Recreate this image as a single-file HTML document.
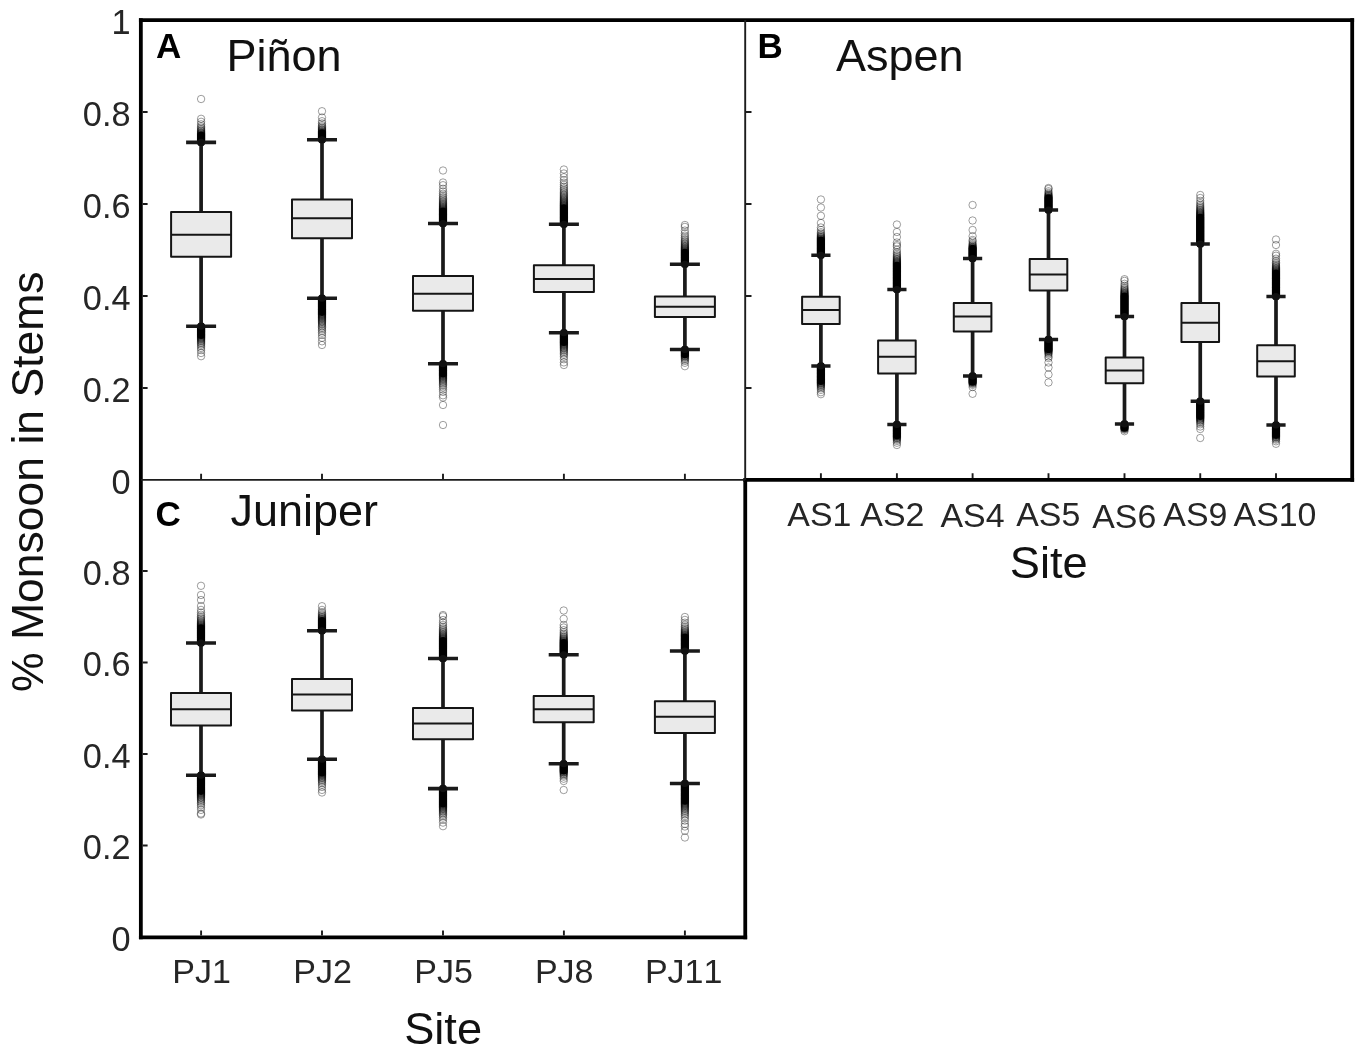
<!DOCTYPE html>
<html><head><meta charset="utf-8"><title>Monsoon in Stems</title>
<style>html,body{margin:0;padding:0;background:#fff}body{width:1360px;height:1052px;position:relative;overflow:hidden}</style>
</head><body>
<svg width="1360" height="1052" viewBox="0 0 1360 1052" style="position:absolute;left:0;top:0;font-kerning:none" font-family="Liberation Sans, Arial, sans-serif" fill="#262626">
<rect width="1360" height="1052" fill="#fff"/>
<g fill="none" stroke="#000" stroke-opacity="0.42" stroke-width="0.9"><circle cx="201.1" cy="142.4" r="3.7"/><circle cx="201.1" cy="142.0" r="3.7"/><circle cx="201.1" cy="141.5" r="3.7"/><circle cx="201.1" cy="141.1" r="3.7"/><circle cx="201.1" cy="140.6" r="3.7"/><circle cx="201.1" cy="140.2" r="3.7"/><circle cx="201.1" cy="139.7" r="3.7"/><circle cx="201.1" cy="139.2" r="3.7"/><circle cx="201.1" cy="138.8" r="3.7"/><circle cx="201.1" cy="138.3" r="3.7"/><circle cx="201.1" cy="137.9" r="3.7"/><circle cx="201.1" cy="137.5" r="3.7"/><circle cx="201.1" cy="137.0" r="3.7"/><circle cx="201.1" cy="136.6" r="3.7"/><circle cx="201.1" cy="136.1" r="3.7"/><circle cx="201.1" cy="135.7" r="3.7"/><circle cx="201.1" cy="135.2" r="3.7"/><circle cx="201.1" cy="134.8" r="3.7"/><circle cx="201.1" cy="134.3" r="3.7"/><circle cx="201.1" cy="133.8" r="3.7"/><circle cx="201.1" cy="133.3" r="3.7"/><circle cx="201.1" cy="132.8" r="3.7"/><circle cx="201.1" cy="132.1" r="3.7"/><circle cx="201.1" cy="131.5" r="3.7"/><circle cx="201.1" cy="130.7" r="3.7"/><circle cx="201.1" cy="129.8" r="3.7"/><circle cx="201.1" cy="128.8" r="3.7"/><circle cx="201.1" cy="127.6" r="3.7"/><circle cx="201.1" cy="126.2" r="3.7"/><circle cx="201.1" cy="124.3" r="3.7"/><circle cx="201.1" cy="121.8" r="3.7"/><circle cx="201.1" cy="118.8" r="3.7"/><circle cx="201.1" cy="99.0" r="3.7"/><path d="M201.1 142.4V135.4" stroke="#000" stroke-opacity="1" stroke-width="7.6" stroke-linecap="round"/><circle cx="201.1" cy="326.2" r="3.7"/><circle cx="201.1" cy="326.7" r="3.7"/><circle cx="201.1" cy="327.1" r="3.7"/><circle cx="201.1" cy="327.6" r="3.7"/><circle cx="201.1" cy="328.1" r="3.7"/><circle cx="201.1" cy="328.5" r="3.7"/><circle cx="201.1" cy="328.9" r="3.7"/><circle cx="201.1" cy="329.4" r="3.7"/><circle cx="201.1" cy="329.9" r="3.7"/><circle cx="201.1" cy="330.3" r="3.7"/><circle cx="201.1" cy="330.8" r="3.7"/><circle cx="201.1" cy="331.2" r="3.7"/><circle cx="201.1" cy="331.6" r="3.7"/><circle cx="201.1" cy="332.1" r="3.7"/><circle cx="201.1" cy="332.6" r="3.7"/><circle cx="201.1" cy="333.0" r="3.7"/><circle cx="201.1" cy="333.4" r="3.7"/><circle cx="201.1" cy="333.9" r="3.7"/><circle cx="201.1" cy="334.4" r="3.7"/><circle cx="201.1" cy="334.8" r="3.7"/><circle cx="201.1" cy="335.2" r="3.7"/><circle cx="201.1" cy="335.7" r="3.7"/><circle cx="201.1" cy="336.1" r="3.7"/><circle cx="201.1" cy="336.6" r="3.7"/><circle cx="201.1" cy="337.1" r="3.7"/><circle cx="201.1" cy="337.6" r="3.7"/><circle cx="201.1" cy="338.1" r="3.7"/><circle cx="201.1" cy="338.7" r="3.7"/><circle cx="201.1" cy="339.3" r="3.7"/><circle cx="201.1" cy="340.0" r="3.7"/><circle cx="201.1" cy="340.8" r="3.7"/><circle cx="201.1" cy="341.6" r="3.7"/><circle cx="201.1" cy="342.6" r="3.7"/><circle cx="201.1" cy="343.6" r="3.7"/><circle cx="201.1" cy="344.8" r="3.7"/><circle cx="201.1" cy="346.2" r="3.7"/><circle cx="201.1" cy="348.0" r="3.7"/><circle cx="201.1" cy="350.1" r="3.7"/><circle cx="201.1" cy="353.0" r="3.7"/><circle cx="201.1" cy="356.2" r="3.7"/><path d="M201.1 326.25V335.2" stroke="#000" stroke-opacity="1" stroke-width="7.6" stroke-linecap="round"/></g>
<path d="M201.1 142.4V212M201.1 256.75V326.25" stroke="#1a1a1a" stroke-width="3.7" fill="none"/>
<path d="M186.1 142.4H216.1M186.1 326.25H216.1" stroke="#1a1a1a" stroke-width="3.7" fill="none"/>
<circle cx="201.1" cy="142.4" r="3.6" fill="#111"/><circle cx="201.1" cy="326.25" r="3.6" fill="#111"/>
<rect x="171.1" y="212" width="60" height="44.75" fill="#eaeaea" stroke="#151515" stroke-width="2" stroke-linejoin="round"/>
<path d="M171.1 234.75H231.1" stroke="#151515" stroke-width="2"/>
<g fill="none" stroke="#000" stroke-opacity="0.42" stroke-width="0.9"><circle cx="322" cy="139.8" r="3.7"/><circle cx="322" cy="139.3" r="3.7"/><circle cx="322" cy="138.8" r="3.7"/><circle cx="322" cy="138.4" r="3.7"/><circle cx="322" cy="137.9" r="3.7"/><circle cx="322" cy="137.5" r="3.7"/><circle cx="322" cy="137.1" r="3.7"/><circle cx="322" cy="136.6" r="3.7"/><circle cx="322" cy="136.2" r="3.7"/><circle cx="322" cy="135.7" r="3.7"/><circle cx="322" cy="135.2" r="3.7"/><circle cx="322" cy="134.8" r="3.7"/><circle cx="322" cy="134.3" r="3.7"/><circle cx="322" cy="133.9" r="3.7"/><circle cx="322" cy="133.4" r="3.7"/><circle cx="322" cy="133.0" r="3.7"/><circle cx="322" cy="132.6" r="3.7"/><circle cx="322" cy="132.1" r="3.7"/><circle cx="322" cy="131.6" r="3.7"/><circle cx="322" cy="131.1" r="3.7"/><circle cx="322" cy="130.5" r="3.7"/><circle cx="322" cy="129.9" r="3.7"/><circle cx="322" cy="129.2" r="3.7"/><circle cx="322" cy="128.4" r="3.7"/><circle cx="322" cy="127.5" r="3.7"/><circle cx="322" cy="126.4" r="3.7"/><circle cx="322" cy="125.1" r="3.7"/><circle cx="322" cy="123.4" r="3.7"/><circle cx="322" cy="121.2" r="3.7"/><circle cx="322" cy="117.5" r="3.7"/><circle cx="322" cy="111.2" r="3.7"/><path d="M322 139.75V133.1" stroke="#000" stroke-opacity="1" stroke-width="7.6" stroke-linecap="round"/><circle cx="322" cy="298.2" r="3.7"/><circle cx="322" cy="298.7" r="3.7"/><circle cx="322" cy="299.1" r="3.7"/><circle cx="322" cy="299.6" r="3.7"/><circle cx="322" cy="300.1" r="3.7"/><circle cx="322" cy="300.5" r="3.7"/><circle cx="322" cy="300.9" r="3.7"/><circle cx="322" cy="301.4" r="3.7"/><circle cx="322" cy="301.9" r="3.7"/><circle cx="322" cy="302.3" r="3.7"/><circle cx="322" cy="302.8" r="3.7"/><circle cx="322" cy="303.2" r="3.7"/><circle cx="322" cy="303.6" r="3.7"/><circle cx="322" cy="304.1" r="3.7"/><circle cx="322" cy="304.6" r="3.7"/><circle cx="322" cy="305.0" r="3.7"/><circle cx="322" cy="305.4" r="3.7"/><circle cx="322" cy="305.9" r="3.7"/><circle cx="322" cy="306.4" r="3.7"/><circle cx="322" cy="306.8" r="3.7"/><circle cx="322" cy="307.2" r="3.7"/><circle cx="322" cy="307.7" r="3.7"/><circle cx="322" cy="308.1" r="3.7"/><circle cx="322" cy="308.6" r="3.7"/><circle cx="322" cy="309.1" r="3.7"/><circle cx="322" cy="309.5" r="3.7"/><circle cx="322" cy="309.9" r="3.7"/><circle cx="322" cy="310.4" r="3.7"/><circle cx="322" cy="310.9" r="3.7"/><circle cx="322" cy="311.3" r="3.7"/><circle cx="322" cy="311.8" r="3.7"/><circle cx="322" cy="312.2" r="3.7"/><circle cx="322" cy="312.6" r="3.7"/><circle cx="322" cy="313.1" r="3.7"/><circle cx="322" cy="313.6" r="3.7"/><circle cx="322" cy="314.0" r="3.7"/><circle cx="322" cy="314.5" r="3.7"/><circle cx="322" cy="314.9" r="3.7"/><circle cx="322" cy="315.4" r="3.7"/><circle cx="322" cy="316.0" r="3.7"/><circle cx="322" cy="316.5" r="3.7"/><circle cx="322" cy="317.1" r="3.7"/><circle cx="322" cy="317.7" r="3.7"/><circle cx="322" cy="318.3" r="3.7"/><circle cx="322" cy="319.0" r="3.7"/><circle cx="322" cy="319.7" r="3.7"/><circle cx="322" cy="320.5" r="3.7"/><circle cx="322" cy="321.3" r="3.7"/><circle cx="322" cy="322.1" r="3.7"/><circle cx="322" cy="323.0" r="3.7"/><circle cx="322" cy="324.0" r="3.7"/><circle cx="322" cy="325.1" r="3.7"/><circle cx="322" cy="326.3" r="3.7"/><circle cx="322" cy="327.6" r="3.7"/><circle cx="322" cy="329.1" r="3.7"/><circle cx="322" cy="330.8" r="3.7"/><circle cx="322" cy="332.7" r="3.7"/><circle cx="322" cy="335.0" r="3.7"/><circle cx="322" cy="337.8" r="3.7"/><circle cx="322" cy="341.3" r="3.7"/><circle cx="322" cy="345.0" r="3.7"/><path d="M322 298.25V312.1" stroke="#000" stroke-opacity="1" stroke-width="7.6" stroke-linecap="round"/></g>
<path d="M322 139.75V199.5M322 238.25V298.25" stroke="#1a1a1a" stroke-width="3.7" fill="none"/>
<path d="M307 139.75H337M307 298.25H337" stroke="#1a1a1a" stroke-width="3.7" fill="none"/>
<circle cx="322" cy="139.75" r="3.6" fill="#111"/><circle cx="322" cy="298.25" r="3.6" fill="#111"/>
<rect x="292" y="199.5" width="60" height="38.75" fill="#eaeaea" stroke="#151515" stroke-width="2" stroke-linejoin="round"/>
<path d="M292 218.25H352" stroke="#151515" stroke-width="2"/>
<g fill="none" stroke="#000" stroke-opacity="0.42" stroke-width="0.9"><circle cx="443" cy="223.5" r="3.7"/><circle cx="443" cy="223.1" r="3.7"/><circle cx="443" cy="222.6" r="3.7"/><circle cx="443" cy="222.2" r="3.7"/><circle cx="443" cy="221.7" r="3.7"/><circle cx="443" cy="221.2" r="3.7"/><circle cx="443" cy="220.8" r="3.7"/><circle cx="443" cy="220.3" r="3.7"/><circle cx="443" cy="219.9" r="3.7"/><circle cx="443" cy="219.4" r="3.7"/><circle cx="443" cy="219.0" r="3.7"/><circle cx="443" cy="218.6" r="3.7"/><circle cx="443" cy="218.1" r="3.7"/><circle cx="443" cy="217.7" r="3.7"/><circle cx="443" cy="217.2" r="3.7"/><circle cx="443" cy="216.8" r="3.7"/><circle cx="443" cy="216.3" r="3.7"/><circle cx="443" cy="215.8" r="3.7"/><circle cx="443" cy="215.4" r="3.7"/><circle cx="443" cy="214.9" r="3.7"/><circle cx="443" cy="214.5" r="3.7"/><circle cx="443" cy="214.1" r="3.7"/><circle cx="443" cy="213.6" r="3.7"/><circle cx="443" cy="213.2" r="3.7"/><circle cx="443" cy="212.7" r="3.7"/><circle cx="443" cy="212.2" r="3.7"/><circle cx="443" cy="211.8" r="3.7"/><circle cx="443" cy="211.3" r="3.7"/><circle cx="443" cy="210.9" r="3.7"/><circle cx="443" cy="210.5" r="3.7"/><circle cx="443" cy="210.0" r="3.7"/><circle cx="443" cy="209.6" r="3.7"/><circle cx="443" cy="209.1" r="3.7"/><circle cx="443" cy="208.6" r="3.7"/><circle cx="443" cy="208.1" r="3.7"/><circle cx="443" cy="207.5" r="3.7"/><circle cx="443" cy="207.0" r="3.7"/><circle cx="443" cy="206.4" r="3.7"/><circle cx="443" cy="205.7" r="3.7"/><circle cx="443" cy="205.0" r="3.7"/><circle cx="443" cy="204.3" r="3.7"/><circle cx="443" cy="203.5" r="3.7"/><circle cx="443" cy="202.7" r="3.7"/><circle cx="443" cy="201.8" r="3.7"/><circle cx="443" cy="200.8" r="3.7"/><circle cx="443" cy="199.7" r="3.7"/><circle cx="443" cy="198.5" r="3.7"/><circle cx="443" cy="197.1" r="3.7"/><circle cx="443" cy="195.5" r="3.7"/><circle cx="443" cy="193.7" r="3.7"/><circle cx="443" cy="191.5" r="3.7"/><circle cx="443" cy="188.8" r="3.7"/><circle cx="443" cy="185.2" r="3.7"/><circle cx="443" cy="182.5" r="3.7"/><circle cx="443" cy="170.5" r="3.7"/><path d="M443 223.5V211.3" stroke="#000" stroke-opacity="1" stroke-width="7.6" stroke-linecap="round"/><circle cx="443" cy="363.8" r="3.7"/><circle cx="443" cy="364.2" r="3.7"/><circle cx="443" cy="364.6" r="3.7"/><circle cx="443" cy="365.1" r="3.7"/><circle cx="443" cy="365.6" r="3.7"/><circle cx="443" cy="366.0" r="3.7"/><circle cx="443" cy="366.4" r="3.7"/><circle cx="443" cy="366.9" r="3.7"/><circle cx="443" cy="367.4" r="3.7"/><circle cx="443" cy="367.8" r="3.7"/><circle cx="443" cy="368.2" r="3.7"/><circle cx="443" cy="368.7" r="3.7"/><circle cx="443" cy="369.1" r="3.7"/><circle cx="443" cy="369.6" r="3.7"/><circle cx="443" cy="370.1" r="3.7"/><circle cx="443" cy="370.5" r="3.7"/><circle cx="443" cy="370.9" r="3.7"/><circle cx="443" cy="371.4" r="3.7"/><circle cx="443" cy="371.9" r="3.7"/><circle cx="443" cy="372.3" r="3.7"/><circle cx="443" cy="372.8" r="3.7"/><circle cx="443" cy="373.2" r="3.7"/><circle cx="443" cy="373.6" r="3.7"/><circle cx="443" cy="374.1" r="3.7"/><circle cx="443" cy="374.6" r="3.7"/><circle cx="443" cy="375.0" r="3.7"/><circle cx="443" cy="375.5" r="3.7"/><circle cx="443" cy="375.9" r="3.7"/><circle cx="443" cy="376.4" r="3.7"/><circle cx="443" cy="377.0" r="3.7"/><circle cx="443" cy="377.6" r="3.7"/><circle cx="443" cy="378.2" r="3.7"/><circle cx="443" cy="378.8" r="3.7"/><circle cx="443" cy="379.6" r="3.7"/><circle cx="443" cy="380.3" r="3.7"/><circle cx="443" cy="381.2" r="3.7"/><circle cx="443" cy="382.2" r="3.7"/><circle cx="443" cy="383.2" r="3.7"/><circle cx="443" cy="384.4" r="3.7"/><circle cx="443" cy="385.8" r="3.7"/><circle cx="443" cy="387.4" r="3.7"/><circle cx="443" cy="389.4" r="3.7"/><circle cx="443" cy="391.9" r="3.7"/><circle cx="443" cy="395.3" r="3.7"/><circle cx="443" cy="397.5" r="3.7"/><circle cx="443" cy="425.0" r="3.7"/><circle cx="443" cy="405.0" r="3.7"/><path d="M443 363.75V373.8" stroke="#000" stroke-opacity="1" stroke-width="7.6" stroke-linecap="round"/></g>
<path d="M443 223.5V276M443 310.75V363.75" stroke="#1a1a1a" stroke-width="3.7" fill="none"/>
<path d="M428 223.5H458M428 363.75H458" stroke="#1a1a1a" stroke-width="3.7" fill="none"/>
<circle cx="443" cy="223.5" r="3.6" fill="#111"/><circle cx="443" cy="363.75" r="3.6" fill="#111"/>
<rect x="413" y="276" width="60" height="34.75" fill="#eaeaea" stroke="#151515" stroke-width="2" stroke-linejoin="round"/>
<path d="M413 293.75H473" stroke="#151515" stroke-width="2"/>
<g fill="none" stroke="#000" stroke-opacity="0.42" stroke-width="0.9"><circle cx="563.9" cy="224.2" r="3.7"/><circle cx="563.9" cy="223.8" r="3.7"/><circle cx="563.9" cy="223.3" r="3.7"/><circle cx="563.9" cy="222.9" r="3.7"/><circle cx="563.9" cy="222.4" r="3.7"/><circle cx="563.9" cy="222.0" r="3.7"/><circle cx="563.9" cy="221.6" r="3.7"/><circle cx="563.9" cy="221.1" r="3.7"/><circle cx="563.9" cy="220.7" r="3.7"/><circle cx="563.9" cy="220.2" r="3.7"/><circle cx="563.9" cy="219.8" r="3.7"/><circle cx="563.9" cy="219.3" r="3.7"/><circle cx="563.9" cy="218.8" r="3.7"/><circle cx="563.9" cy="218.4" r="3.7"/><circle cx="563.9" cy="217.9" r="3.7"/><circle cx="563.9" cy="217.5" r="3.7"/><circle cx="563.9" cy="217.1" r="3.7"/><circle cx="563.9" cy="216.6" r="3.7"/><circle cx="563.9" cy="216.2" r="3.7"/><circle cx="563.9" cy="215.7" r="3.7"/><circle cx="563.9" cy="215.2" r="3.7"/><circle cx="563.9" cy="214.8" r="3.7"/><circle cx="563.9" cy="214.3" r="3.7"/><circle cx="563.9" cy="213.9" r="3.7"/><circle cx="563.9" cy="213.4" r="3.7"/><circle cx="563.9" cy="213.0" r="3.7"/><circle cx="563.9" cy="212.6" r="3.7"/><circle cx="563.9" cy="212.1" r="3.7"/><circle cx="563.9" cy="211.7" r="3.7"/><circle cx="563.9" cy="211.2" r="3.7"/><circle cx="563.9" cy="210.8" r="3.7"/><circle cx="563.9" cy="210.3" r="3.7"/><circle cx="563.9" cy="209.9" r="3.7"/><circle cx="563.9" cy="209.4" r="3.7"/><circle cx="563.9" cy="209.0" r="3.7"/><circle cx="563.9" cy="208.5" r="3.7"/><circle cx="563.9" cy="208.1" r="3.7"/><circle cx="563.9" cy="207.6" r="3.7"/><circle cx="563.9" cy="207.2" r="3.7"/><circle cx="563.9" cy="206.7" r="3.7"/><circle cx="563.9" cy="206.2" r="3.7"/><circle cx="563.9" cy="205.8" r="3.7"/><circle cx="563.9" cy="205.3" r="3.7"/><circle cx="563.9" cy="204.9" r="3.7"/><circle cx="563.9" cy="204.4" r="3.7"/><circle cx="563.9" cy="203.8" r="3.7"/><circle cx="563.9" cy="203.3" r="3.7"/><circle cx="563.9" cy="202.8" r="3.7"/><circle cx="563.9" cy="202.2" r="3.7"/><circle cx="563.9" cy="201.6" r="3.7"/><circle cx="563.9" cy="201.0" r="3.7"/><circle cx="563.9" cy="200.3" r="3.7"/><circle cx="563.9" cy="199.6" r="3.7"/><circle cx="563.9" cy="198.9" r="3.7"/><circle cx="563.9" cy="198.1" r="3.7"/><circle cx="563.9" cy="197.3" r="3.7"/><circle cx="563.9" cy="196.4" r="3.7"/><circle cx="563.9" cy="195.5" r="3.7"/><circle cx="563.9" cy="194.6" r="3.7"/><circle cx="563.9" cy="193.5" r="3.7"/><circle cx="563.9" cy="192.4" r="3.7"/><circle cx="563.9" cy="191.1" r="3.7"/><circle cx="563.9" cy="189.8" r="3.7"/><circle cx="563.9" cy="188.3" r="3.7"/><circle cx="563.9" cy="186.7" r="3.7"/><circle cx="563.9" cy="184.8" r="3.7"/><circle cx="563.9" cy="182.7" r="3.7"/><circle cx="563.9" cy="180.2" r="3.7"/><circle cx="563.9" cy="177.2" r="3.7"/><circle cx="563.9" cy="173.5" r="3.7"/><circle cx="563.9" cy="169.5" r="3.7"/><path d="M563.9 224.25V208.0" stroke="#000" stroke-opacity="1" stroke-width="7.6" stroke-linecap="round"/><circle cx="563.9" cy="332.8" r="3.7"/><circle cx="563.9" cy="333.2" r="3.7"/><circle cx="563.9" cy="333.6" r="3.7"/><circle cx="563.9" cy="334.1" r="3.7"/><circle cx="563.9" cy="334.6" r="3.7"/><circle cx="563.9" cy="335.0" r="3.7"/><circle cx="563.9" cy="335.4" r="3.7"/><circle cx="563.9" cy="335.9" r="3.7"/><circle cx="563.9" cy="336.4" r="3.7"/><circle cx="563.9" cy="336.8" r="3.7"/><circle cx="563.9" cy="337.2" r="3.7"/><circle cx="563.9" cy="337.7" r="3.7"/><circle cx="563.9" cy="338.1" r="3.7"/><circle cx="563.9" cy="338.6" r="3.7"/><circle cx="563.9" cy="339.1" r="3.7"/><circle cx="563.9" cy="339.5" r="3.7"/><circle cx="563.9" cy="339.9" r="3.7"/><circle cx="563.9" cy="340.4" r="3.7"/><circle cx="563.9" cy="340.9" r="3.7"/><circle cx="563.9" cy="341.3" r="3.7"/><circle cx="563.9" cy="341.8" r="3.7"/><circle cx="563.9" cy="342.2" r="3.7"/><circle cx="563.9" cy="342.6" r="3.7"/><circle cx="563.9" cy="343.1" r="3.7"/><circle cx="563.9" cy="343.6" r="3.7"/><circle cx="563.9" cy="344.0" r="3.7"/><circle cx="563.9" cy="344.5" r="3.7"/><circle cx="563.9" cy="345.0" r="3.7"/><circle cx="563.9" cy="345.6" r="3.7"/><circle cx="563.9" cy="346.1" r="3.7"/><circle cx="563.9" cy="346.8" r="3.7"/><circle cx="563.9" cy="347.5" r="3.7"/><circle cx="563.9" cy="348.2" r="3.7"/><circle cx="563.9" cy="349.0" r="3.7"/><circle cx="563.9" cy="349.9" r="3.7"/><circle cx="563.9" cy="350.9" r="3.7"/><circle cx="563.9" cy="352.1" r="3.7"/><circle cx="563.9" cy="353.4" r="3.7"/><circle cx="563.9" cy="354.9" r="3.7"/><circle cx="563.9" cy="356.8" r="3.7"/><circle cx="563.9" cy="359.2" r="3.7"/><circle cx="563.9" cy="362.4" r="3.7"/><circle cx="563.9" cy="365.0" r="3.7"/><path d="M563.9 332.75V342.3" stroke="#000" stroke-opacity="1" stroke-width="7.6" stroke-linecap="round"/></g>
<path d="M563.9 224.25V265.25M563.9 292V332.75" stroke="#1a1a1a" stroke-width="3.7" fill="none"/>
<path d="M548.9 224.25H578.9M548.9 332.75H578.9" stroke="#1a1a1a" stroke-width="3.7" fill="none"/>
<circle cx="563.9" cy="224.25" r="3.6" fill="#111"/><circle cx="563.9" cy="332.75" r="3.6" fill="#111"/>
<rect x="533.9" y="265.25" width="60" height="26.75" fill="#eaeaea" stroke="#151515" stroke-width="2" stroke-linejoin="round"/>
<path d="M533.9 279H593.9" stroke="#151515" stroke-width="2"/>
<g fill="none" stroke="#000" stroke-opacity="0.42" stroke-width="0.9"><circle cx="684.9" cy="264.2" r="3.7"/><circle cx="684.9" cy="263.8" r="3.7"/><circle cx="684.9" cy="263.4" r="3.7"/><circle cx="684.9" cy="262.9" r="3.7"/><circle cx="684.9" cy="262.4" r="3.7"/><circle cx="684.9" cy="262.0" r="3.7"/><circle cx="684.9" cy="261.6" r="3.7"/><circle cx="684.9" cy="261.1" r="3.7"/><circle cx="684.9" cy="260.6" r="3.7"/><circle cx="684.9" cy="260.2" r="3.7"/><circle cx="684.9" cy="259.8" r="3.7"/><circle cx="684.9" cy="259.3" r="3.7"/><circle cx="684.9" cy="258.9" r="3.7"/><circle cx="684.9" cy="258.4" r="3.7"/><circle cx="684.9" cy="257.9" r="3.7"/><circle cx="684.9" cy="257.5" r="3.7"/><circle cx="684.9" cy="257.1" r="3.7"/><circle cx="684.9" cy="256.6" r="3.7"/><circle cx="684.9" cy="256.1" r="3.7"/><circle cx="684.9" cy="255.7" r="3.7"/><circle cx="684.9" cy="255.2" r="3.7"/><circle cx="684.9" cy="254.8" r="3.7"/><circle cx="684.9" cy="254.3" r="3.7"/><circle cx="684.9" cy="253.9" r="3.7"/><circle cx="684.9" cy="253.4" r="3.7"/><circle cx="684.9" cy="253.0" r="3.7"/><circle cx="684.9" cy="252.6" r="3.7"/><circle cx="684.9" cy="252.1" r="3.7"/><circle cx="684.9" cy="251.7" r="3.7"/><circle cx="684.9" cy="251.2" r="3.7"/><circle cx="684.9" cy="250.7" r="3.7"/><circle cx="684.9" cy="250.3" r="3.7"/><circle cx="684.9" cy="249.8" r="3.7"/><circle cx="684.9" cy="249.2" r="3.7"/><circle cx="684.9" cy="248.7" r="3.7"/><circle cx="684.9" cy="248.1" r="3.7"/><circle cx="684.9" cy="247.5" r="3.7"/><circle cx="684.9" cy="246.8" r="3.7"/><circle cx="684.9" cy="246.1" r="3.7"/><circle cx="684.9" cy="245.3" r="3.7"/><circle cx="684.9" cy="244.5" r="3.7"/><circle cx="684.9" cy="243.6" r="3.7"/><circle cx="684.9" cy="242.6" r="3.7"/><circle cx="684.9" cy="241.6" r="3.7"/><circle cx="684.9" cy="240.4" r="3.7"/><circle cx="684.9" cy="239.0" r="3.7"/><circle cx="684.9" cy="237.4" r="3.7"/><circle cx="684.9" cy="235.6" r="3.7"/><circle cx="684.9" cy="233.4" r="3.7"/><circle cx="684.9" cy="230.6" r="3.7"/><circle cx="684.9" cy="226.9" r="3.7"/><circle cx="684.9" cy="225.0" r="3.7"/><path d="M684.9 264.25V252.6" stroke="#000" stroke-opacity="1" stroke-width="7.6" stroke-linecap="round"/><circle cx="684.9" cy="349.5" r="3.7"/><circle cx="684.9" cy="349.9" r="3.7"/><circle cx="684.9" cy="350.4" r="3.7"/><circle cx="684.9" cy="350.9" r="3.7"/><circle cx="684.9" cy="351.3" r="3.7"/><circle cx="684.9" cy="351.8" r="3.7"/><circle cx="684.9" cy="352.2" r="3.7"/><circle cx="684.9" cy="352.6" r="3.7"/><circle cx="684.9" cy="353.1" r="3.7"/><circle cx="684.9" cy="353.6" r="3.7"/><circle cx="684.9" cy="354.0" r="3.7"/><circle cx="684.9" cy="354.4" r="3.7"/><circle cx="684.9" cy="354.9" r="3.7"/><circle cx="684.9" cy="355.4" r="3.7"/><circle cx="684.9" cy="355.8" r="3.7"/><circle cx="684.9" cy="356.4" r="3.7"/><circle cx="684.9" cy="357.0" r="3.7"/><circle cx="684.9" cy="357.7" r="3.7"/><circle cx="684.9" cy="358.6" r="3.7"/><circle cx="684.9" cy="359.6" r="3.7"/><circle cx="684.9" cy="361.0" r="3.7"/><circle cx="684.9" cy="362.8" r="3.7"/><circle cx="684.9" cy="366.2" r="3.7"/><path d="M684.9 349.5V354.5" stroke="#000" stroke-opacity="1" stroke-width="7.6" stroke-linecap="round"/></g>
<path d="M684.9 264.25V296.5M684.9 317V349.5" stroke="#1a1a1a" stroke-width="3.7" fill="none"/>
<path d="M669.9 264.25H699.9M669.9 349.5H699.9" stroke="#1a1a1a" stroke-width="3.7" fill="none"/>
<circle cx="684.9" cy="264.25" r="3.6" fill="#111"/><circle cx="684.9" cy="349.5" r="3.6" fill="#111"/>
<rect x="654.9" y="296.5" width="60" height="20.5" fill="#eaeaea" stroke="#151515" stroke-width="2" stroke-linejoin="round"/>
<path d="M654.9 306.75H714.9" stroke="#151515" stroke-width="2"/>
<g fill="none" stroke="#000" stroke-opacity="0.42" stroke-width="0.9"><circle cx="820.9" cy="255.2" r="3.7"/><circle cx="820.9" cy="254.8" r="3.7"/><circle cx="820.9" cy="254.3" r="3.7"/><circle cx="820.9" cy="253.9" r="3.7"/><circle cx="820.9" cy="253.4" r="3.7"/><circle cx="820.9" cy="253.0" r="3.7"/><circle cx="820.9" cy="252.6" r="3.7"/><circle cx="820.9" cy="252.1" r="3.7"/><circle cx="820.9" cy="251.7" r="3.7"/><circle cx="820.9" cy="251.2" r="3.7"/><circle cx="820.9" cy="250.8" r="3.7"/><circle cx="820.9" cy="250.3" r="3.7"/><circle cx="820.9" cy="249.8" r="3.7"/><circle cx="820.9" cy="249.4" r="3.7"/><circle cx="820.9" cy="248.9" r="3.7"/><circle cx="820.9" cy="248.5" r="3.7"/><circle cx="820.9" cy="248.1" r="3.7"/><circle cx="820.9" cy="247.6" r="3.7"/><circle cx="820.9" cy="247.2" r="3.7"/><circle cx="820.9" cy="246.7" r="3.7"/><circle cx="820.9" cy="246.2" r="3.7"/><circle cx="820.9" cy="245.8" r="3.7"/><circle cx="820.9" cy="245.3" r="3.7"/><circle cx="820.9" cy="244.9" r="3.7"/><circle cx="820.9" cy="244.4" r="3.7"/><circle cx="820.9" cy="244.0" r="3.7"/><circle cx="820.9" cy="243.6" r="3.7"/><circle cx="820.9" cy="243.1" r="3.7"/><circle cx="820.9" cy="242.7" r="3.7"/><circle cx="820.9" cy="242.2" r="3.7"/><circle cx="820.9" cy="241.8" r="3.7"/><circle cx="820.9" cy="241.3" r="3.7"/><circle cx="820.9" cy="240.9" r="3.7"/><circle cx="820.9" cy="240.4" r="3.7"/><circle cx="820.9" cy="240.0" r="3.7"/><circle cx="820.9" cy="239.5" r="3.7"/><circle cx="820.9" cy="239.1" r="3.7"/><circle cx="820.9" cy="238.6" r="3.7"/><circle cx="820.9" cy="238.2" r="3.7"/><circle cx="820.9" cy="237.6" r="3.7"/><circle cx="820.9" cy="237.1" r="3.7"/><circle cx="820.9" cy="236.4" r="3.7"/><circle cx="820.9" cy="235.7" r="3.7"/><circle cx="820.9" cy="234.8" r="3.7"/><circle cx="820.9" cy="233.6" r="3.7"/><circle cx="820.9" cy="232.2" r="3.7"/><circle cx="820.9" cy="230.0" r="3.7"/><circle cx="820.9" cy="227.5" r="3.7"/><circle cx="820.9" cy="199.5" r="3.7"/><circle cx="820.9" cy="207.5" r="3.7"/><circle cx="820.9" cy="215.8" r="3.7"/><circle cx="820.9" cy="223.0" r="3.7"/><path d="M820.9 255.25V240.3" stroke="#000" stroke-opacity="1" stroke-width="7.6" stroke-linecap="round"/><circle cx="820.9" cy="366.0" r="3.7"/><circle cx="820.9" cy="366.4" r="3.7"/><circle cx="820.9" cy="366.9" r="3.7"/><circle cx="820.9" cy="367.4" r="3.7"/><circle cx="820.9" cy="367.8" r="3.7"/><circle cx="820.9" cy="368.2" r="3.7"/><circle cx="820.9" cy="368.7" r="3.7"/><circle cx="820.9" cy="369.1" r="3.7"/><circle cx="820.9" cy="369.6" r="3.7"/><circle cx="820.9" cy="370.1" r="3.7"/><circle cx="820.9" cy="370.5" r="3.7"/><circle cx="820.9" cy="370.9" r="3.7"/><circle cx="820.9" cy="371.4" r="3.7"/><circle cx="820.9" cy="371.9" r="3.7"/><circle cx="820.9" cy="372.3" r="3.7"/><circle cx="820.9" cy="372.8" r="3.7"/><circle cx="820.9" cy="373.2" r="3.7"/><circle cx="820.9" cy="373.6" r="3.7"/><circle cx="820.9" cy="374.1" r="3.7"/><circle cx="820.9" cy="374.6" r="3.7"/><circle cx="820.9" cy="375.0" r="3.7"/><circle cx="820.9" cy="375.4" r="3.7"/><circle cx="820.9" cy="375.9" r="3.7"/><circle cx="820.9" cy="376.4" r="3.7"/><circle cx="820.9" cy="376.8" r="3.7"/><circle cx="820.9" cy="377.2" r="3.7"/><circle cx="820.9" cy="377.7" r="3.7"/><circle cx="820.9" cy="378.1" r="3.7"/><circle cx="820.9" cy="378.6" r="3.7"/><circle cx="820.9" cy="379.1" r="3.7"/><circle cx="820.9" cy="379.5" r="3.7"/><circle cx="820.9" cy="379.9" r="3.7"/><circle cx="820.9" cy="380.4" r="3.7"/><circle cx="820.9" cy="380.8" r="3.7"/><circle cx="820.9" cy="381.3" r="3.7"/><circle cx="820.9" cy="381.8" r="3.7"/><circle cx="820.9" cy="382.2" r="3.7"/><circle cx="820.9" cy="382.6" r="3.7"/><circle cx="820.9" cy="383.1" r="3.7"/><circle cx="820.9" cy="383.6" r="3.7"/><circle cx="820.9" cy="384.1" r="3.7"/><circle cx="820.9" cy="384.7" r="3.7"/><circle cx="820.9" cy="385.4" r="3.7"/><circle cx="820.9" cy="386.1" r="3.7"/><circle cx="820.9" cy="387.1" r="3.7"/><circle cx="820.9" cy="388.3" r="3.7"/><circle cx="820.9" cy="389.9" r="3.7"/><circle cx="820.9" cy="392.2" r="3.7"/><circle cx="820.9" cy="394.2" r="3.7"/><path d="M820.9 366V381.3" stroke="#000" stroke-opacity="1" stroke-width="7.6" stroke-linecap="round"/></g>
<path d="M820.9 255.25V296.75M820.9 324V366" stroke="#1a1a1a" stroke-width="3.7" fill="none"/>
<path d="M811.3 255.25H830.5M811.3 366H830.5" stroke="#1a1a1a" stroke-width="3.7" fill="none"/>
<circle cx="820.9" cy="255.25" r="3.6" fill="#111"/><circle cx="820.9" cy="366" r="3.6" fill="#111"/>
<rect x="802.1" y="296.75" width="37.6" height="27.25" fill="#eaeaea" stroke="#151515" stroke-width="2" stroke-linejoin="round"/>
<path d="M802.1 310H839.6999999999999" stroke="#151515" stroke-width="2"/>
<g fill="none" stroke="#000" stroke-opacity="0.42" stroke-width="0.9"><circle cx="896.9" cy="289.5" r="3.7"/><circle cx="896.9" cy="289.1" r="3.7"/><circle cx="896.9" cy="288.6" r="3.7"/><circle cx="896.9" cy="288.1" r="3.7"/><circle cx="896.9" cy="287.7" r="3.7"/><circle cx="896.9" cy="287.2" r="3.7"/><circle cx="896.9" cy="286.8" r="3.7"/><circle cx="896.9" cy="286.4" r="3.7"/><circle cx="896.9" cy="285.9" r="3.7"/><circle cx="896.9" cy="285.4" r="3.7"/><circle cx="896.9" cy="285.0" r="3.7"/><circle cx="896.9" cy="284.6" r="3.7"/><circle cx="896.9" cy="284.1" r="3.7"/><circle cx="896.9" cy="283.6" r="3.7"/><circle cx="896.9" cy="283.2" r="3.7"/><circle cx="896.9" cy="282.8" r="3.7"/><circle cx="896.9" cy="282.3" r="3.7"/><circle cx="896.9" cy="281.9" r="3.7"/><circle cx="896.9" cy="281.4" r="3.7"/><circle cx="896.9" cy="280.9" r="3.7"/><circle cx="896.9" cy="280.5" r="3.7"/><circle cx="896.9" cy="280.1" r="3.7"/><circle cx="896.9" cy="279.6" r="3.7"/><circle cx="896.9" cy="279.1" r="3.7"/><circle cx="896.9" cy="278.7" r="3.7"/><circle cx="896.9" cy="278.2" r="3.7"/><circle cx="896.9" cy="277.8" r="3.7"/><circle cx="896.9" cy="277.4" r="3.7"/><circle cx="896.9" cy="276.9" r="3.7"/><circle cx="896.9" cy="276.4" r="3.7"/><circle cx="896.9" cy="276.0" r="3.7"/><circle cx="896.9" cy="275.6" r="3.7"/><circle cx="896.9" cy="275.1" r="3.7"/><circle cx="896.9" cy="274.7" r="3.7"/><circle cx="896.9" cy="274.2" r="3.7"/><circle cx="896.9" cy="273.8" r="3.7"/><circle cx="896.9" cy="273.3" r="3.7"/><circle cx="896.9" cy="272.9" r="3.7"/><circle cx="896.9" cy="272.4" r="3.7"/><circle cx="896.9" cy="271.9" r="3.7"/><circle cx="896.9" cy="271.5" r="3.7"/><circle cx="896.9" cy="271.1" r="3.7"/><circle cx="896.9" cy="270.6" r="3.7"/><circle cx="896.9" cy="270.2" r="3.7"/><circle cx="896.9" cy="269.7" r="3.7"/><circle cx="896.9" cy="269.2" r="3.7"/><circle cx="896.9" cy="268.8" r="3.7"/><circle cx="896.9" cy="268.4" r="3.7"/><circle cx="896.9" cy="267.9" r="3.7"/><circle cx="896.9" cy="267.5" r="3.7"/><circle cx="896.9" cy="267.0" r="3.7"/><circle cx="896.9" cy="266.6" r="3.7"/><circle cx="896.9" cy="266.1" r="3.7"/><circle cx="896.9" cy="265.7" r="3.7"/><circle cx="896.9" cy="265.2" r="3.7"/><circle cx="896.9" cy="264.8" r="3.7"/><circle cx="896.9" cy="264.3" r="3.7"/><circle cx="896.9" cy="263.9" r="3.7"/><circle cx="896.9" cy="263.4" r="3.7"/><circle cx="896.9" cy="263.0" r="3.7"/><circle cx="896.9" cy="262.5" r="3.7"/><circle cx="896.9" cy="262.0" r="3.7"/><circle cx="896.9" cy="261.5" r="3.7"/><circle cx="896.9" cy="261.0" r="3.7"/><circle cx="896.9" cy="260.4" r="3.7"/><circle cx="896.9" cy="259.7" r="3.7"/><circle cx="896.9" cy="259.0" r="3.7"/><circle cx="896.9" cy="258.2" r="3.7"/><circle cx="896.9" cy="257.3" r="3.7"/><circle cx="896.9" cy="256.3" r="3.7"/><circle cx="896.9" cy="255.1" r="3.7"/><circle cx="896.9" cy="253.7" r="3.7"/><circle cx="896.9" cy="252.0" r="3.7"/><circle cx="896.9" cy="249.7" r="3.7"/><circle cx="896.9" cy="246.4" r="3.7"/><circle cx="896.9" cy="245.0" r="3.7"/><circle cx="896.9" cy="224.5" r="3.7"/><circle cx="896.9" cy="232.0" r="3.7"/><circle cx="896.9" cy="237.0" r="3.7"/><circle cx="896.9" cy="242.5" r="3.7"/><path d="M896.9 289.5V265.5" stroke="#000" stroke-opacity="1" stroke-width="7.6" stroke-linecap="round"/><circle cx="896.9" cy="424.5" r="3.7"/><circle cx="896.9" cy="424.9" r="3.7"/><circle cx="896.9" cy="425.4" r="3.7"/><circle cx="896.9" cy="425.9" r="3.7"/><circle cx="896.9" cy="426.3" r="3.7"/><circle cx="896.9" cy="426.8" r="3.7"/><circle cx="896.9" cy="427.2" r="3.7"/><circle cx="896.9" cy="427.6" r="3.7"/><circle cx="896.9" cy="428.1" r="3.7"/><circle cx="896.9" cy="428.6" r="3.7"/><circle cx="896.9" cy="429.0" r="3.7"/><circle cx="896.9" cy="429.4" r="3.7"/><circle cx="896.9" cy="429.9" r="3.7"/><circle cx="896.9" cy="430.4" r="3.7"/><circle cx="896.9" cy="430.8" r="3.7"/><circle cx="896.9" cy="431.2" r="3.7"/><circle cx="896.9" cy="431.7" r="3.7"/><circle cx="896.9" cy="432.1" r="3.7"/><circle cx="896.9" cy="432.6" r="3.7"/><circle cx="896.9" cy="433.1" r="3.7"/><circle cx="896.9" cy="433.5" r="3.7"/><circle cx="896.9" cy="433.9" r="3.7"/><circle cx="896.9" cy="434.4" r="3.7"/><circle cx="896.9" cy="434.9" r="3.7"/><circle cx="896.9" cy="435.3" r="3.7"/><circle cx="896.9" cy="435.8" r="3.7"/><circle cx="896.9" cy="436.2" r="3.7"/><circle cx="896.9" cy="436.6" r="3.7"/><circle cx="896.9" cy="437.1" r="3.7"/><circle cx="896.9" cy="437.6" r="3.7"/><circle cx="896.9" cy="438.2" r="3.7"/><circle cx="896.9" cy="438.9" r="3.7"/><circle cx="896.9" cy="439.8" r="3.7"/><circle cx="896.9" cy="441.0" r="3.7"/><circle cx="896.9" cy="442.7" r="3.7"/><circle cx="896.9" cy="445.0" r="3.7"/><path d="M896.9 424.5V435.6" stroke="#000" stroke-opacity="1" stroke-width="7.6" stroke-linecap="round"/></g>
<path d="M896.9 289.5V340.5M896.9 373.5V424.5" stroke="#1a1a1a" stroke-width="3.7" fill="none"/>
<path d="M887.3 289.5H906.5M887.3 424.5H906.5" stroke="#1a1a1a" stroke-width="3.7" fill="none"/>
<circle cx="896.9" cy="289.5" r="3.6" fill="#111"/><circle cx="896.9" cy="424.5" r="3.6" fill="#111"/>
<rect x="878.1" y="340.5" width="37.6" height="33.0" fill="#eaeaea" stroke="#151515" stroke-width="2" stroke-linejoin="round"/>
<path d="M878.1 356.75H915.6999999999999" stroke="#151515" stroke-width="2"/>
<g fill="none" stroke="#000" stroke-opacity="0.42" stroke-width="0.9"><circle cx="972.6" cy="258.5" r="3.7"/><circle cx="972.6" cy="258.1" r="3.7"/><circle cx="972.6" cy="257.6" r="3.7"/><circle cx="972.6" cy="257.1" r="3.7"/><circle cx="972.6" cy="256.7" r="3.7"/><circle cx="972.6" cy="256.2" r="3.7"/><circle cx="972.6" cy="255.8" r="3.7"/><circle cx="972.6" cy="255.3" r="3.7"/><circle cx="972.6" cy="254.9" r="3.7"/><circle cx="972.6" cy="254.4" r="3.7"/><circle cx="972.6" cy="254.0" r="3.7"/><circle cx="972.6" cy="253.6" r="3.7"/><circle cx="972.6" cy="253.1" r="3.7"/><circle cx="972.6" cy="252.7" r="3.7"/><circle cx="972.6" cy="252.2" r="3.7"/><circle cx="972.6" cy="251.8" r="3.7"/><circle cx="972.6" cy="251.3" r="3.7"/><circle cx="972.6" cy="250.8" r="3.7"/><circle cx="972.6" cy="250.4" r="3.7"/><circle cx="972.6" cy="249.9" r="3.7"/><circle cx="972.6" cy="249.5" r="3.7"/><circle cx="972.6" cy="249.1" r="3.7"/><circle cx="972.6" cy="248.6" r="3.7"/><circle cx="972.6" cy="248.2" r="3.7"/><circle cx="972.6" cy="247.7" r="3.7"/><circle cx="972.6" cy="247.2" r="3.7"/><circle cx="972.6" cy="246.8" r="3.7"/><circle cx="972.6" cy="246.2" r="3.7"/><circle cx="972.6" cy="245.5" r="3.7"/><circle cx="972.6" cy="244.6" r="3.7"/><circle cx="972.6" cy="243.4" r="3.7"/><circle cx="972.6" cy="241.5" r="3.7"/><circle cx="972.6" cy="240.0" r="3.7"/><circle cx="972.6" cy="205.0" r="3.7"/><circle cx="972.6" cy="220.5" r="3.7"/><circle cx="972.6" cy="230.0" r="3.7"/><circle cx="972.6" cy="236.2" r="3.7"/><path d="M972.6 258.5V248.5" stroke="#000" stroke-opacity="1" stroke-width="7.6" stroke-linecap="round"/><circle cx="972.6" cy="376.0" r="3.7"/><circle cx="972.6" cy="376.4" r="3.7"/><circle cx="972.6" cy="376.9" r="3.7"/><circle cx="972.6" cy="377.4" r="3.7"/><circle cx="972.6" cy="377.8" r="3.7"/><circle cx="972.6" cy="378.2" r="3.7"/><circle cx="972.6" cy="378.7" r="3.7"/><circle cx="972.6" cy="379.1" r="3.7"/><circle cx="972.6" cy="379.6" r="3.7"/><circle cx="972.6" cy="380.1" r="3.7"/><circle cx="972.6" cy="380.5" r="3.7"/><circle cx="972.6" cy="380.9" r="3.7"/><circle cx="972.6" cy="381.4" r="3.7"/><circle cx="972.6" cy="381.9" r="3.7"/><circle cx="972.6" cy="382.3" r="3.7"/><circle cx="972.6" cy="382.8" r="3.7"/><circle cx="972.6" cy="383.2" r="3.7"/><circle cx="972.6" cy="383.9" r="3.7"/><circle cx="972.6" cy="384.9" r="3.7"/><circle cx="972.6" cy="387.0" r="3.7"/><circle cx="972.6" cy="393.8" r="3.7"/><path d="M972.6 376V381.9" stroke="#000" stroke-opacity="1" stroke-width="7.6" stroke-linecap="round"/></g>
<path d="M972.6 258.5V303M972.6 331.5V376" stroke="#1a1a1a" stroke-width="3.7" fill="none"/>
<path d="M963.0 258.5H982.2M963.0 376H982.2" stroke="#1a1a1a" stroke-width="3.7" fill="none"/>
<circle cx="972.6" cy="258.5" r="3.6" fill="#111"/><circle cx="972.6" cy="376" r="3.6" fill="#111"/>
<rect x="953.8000000000001" y="303" width="37.6" height="28.5" fill="#eaeaea" stroke="#151515" stroke-width="2" stroke-linejoin="round"/>
<path d="M953.8000000000001 316.5H991.4" stroke="#151515" stroke-width="2"/>
<g fill="none" stroke="#000" stroke-opacity="0.42" stroke-width="0.9"><circle cx="1048.5" cy="210.0" r="3.7"/><circle cx="1048.5" cy="209.6" r="3.7"/><circle cx="1048.5" cy="209.1" r="3.7"/><circle cx="1048.5" cy="208.7" r="3.7"/><circle cx="1048.5" cy="208.2" r="3.7"/><circle cx="1048.5" cy="207.8" r="3.7"/><circle cx="1048.5" cy="207.3" r="3.7"/><circle cx="1048.5" cy="206.8" r="3.7"/><circle cx="1048.5" cy="206.4" r="3.7"/><circle cx="1048.5" cy="205.9" r="3.7"/><circle cx="1048.5" cy="205.5" r="3.7"/><circle cx="1048.5" cy="205.1" r="3.7"/><circle cx="1048.5" cy="204.6" r="3.7"/><circle cx="1048.5" cy="204.2" r="3.7"/><circle cx="1048.5" cy="203.7" r="3.7"/><circle cx="1048.5" cy="203.2" r="3.7"/><circle cx="1048.5" cy="202.8" r="3.7"/><circle cx="1048.5" cy="202.3" r="3.7"/><circle cx="1048.5" cy="201.9" r="3.7"/><circle cx="1048.5" cy="201.4" r="3.7"/><circle cx="1048.5" cy="201.0" r="3.7"/><circle cx="1048.5" cy="200.6" r="3.7"/><circle cx="1048.5" cy="200.1" r="3.7"/><circle cx="1048.5" cy="199.7" r="3.7"/><circle cx="1048.5" cy="199.2" r="3.7"/><circle cx="1048.5" cy="198.8" r="3.7"/><circle cx="1048.5" cy="198.3" r="3.7"/><circle cx="1048.5" cy="197.8" r="3.7"/><circle cx="1048.5" cy="197.4" r="3.7"/><circle cx="1048.5" cy="197.0" r="3.7"/><circle cx="1048.5" cy="196.5" r="3.7"/><circle cx="1048.5" cy="196.0" r="3.7"/><circle cx="1048.5" cy="195.4" r="3.7"/><circle cx="1048.5" cy="194.8" r="3.7"/><circle cx="1048.5" cy="193.9" r="3.7"/><circle cx="1048.5" cy="192.8" r="3.7"/><circle cx="1048.5" cy="191.3" r="3.7"/><circle cx="1048.5" cy="189.0" r="3.7"/><circle cx="1048.5" cy="188.0" r="3.7"/><path d="M1048.5 210V198.1" stroke="#000" stroke-opacity="1" stroke-width="7.6" stroke-linecap="round"/><circle cx="1048.5" cy="339.5" r="3.7"/><circle cx="1048.5" cy="339.9" r="3.7"/><circle cx="1048.5" cy="340.4" r="3.7"/><circle cx="1048.5" cy="340.9" r="3.7"/><circle cx="1048.5" cy="341.3" r="3.7"/><circle cx="1048.5" cy="341.8" r="3.7"/><circle cx="1048.5" cy="342.2" r="3.7"/><circle cx="1048.5" cy="342.6" r="3.7"/><circle cx="1048.5" cy="343.1" r="3.7"/><circle cx="1048.5" cy="343.6" r="3.7"/><circle cx="1048.5" cy="344.0" r="3.7"/><circle cx="1048.5" cy="344.4" r="3.7"/><circle cx="1048.5" cy="344.9" r="3.7"/><circle cx="1048.5" cy="345.4" r="3.7"/><circle cx="1048.5" cy="345.8" r="3.7"/><circle cx="1048.5" cy="346.2" r="3.7"/><circle cx="1048.5" cy="346.7" r="3.7"/><circle cx="1048.5" cy="347.1" r="3.7"/><circle cx="1048.5" cy="347.6" r="3.7"/><circle cx="1048.5" cy="348.1" r="3.7"/><circle cx="1048.5" cy="348.5" r="3.7"/><circle cx="1048.5" cy="348.9" r="3.7"/><circle cx="1048.5" cy="349.4" r="3.7"/><circle cx="1048.5" cy="349.9" r="3.7"/><circle cx="1048.5" cy="350.3" r="3.7"/><circle cx="1048.5" cy="350.8" r="3.7"/><circle cx="1048.5" cy="351.2" r="3.7"/><circle cx="1048.5" cy="351.8" r="3.7"/><circle cx="1048.5" cy="352.5" r="3.7"/><circle cx="1048.5" cy="353.4" r="3.7"/><circle cx="1048.5" cy="354.6" r="3.7"/><circle cx="1048.5" cy="356.5" r="3.7"/><circle cx="1048.5" cy="358.0" r="3.7"/><circle cx="1048.5" cy="362.5" r="3.7"/><circle cx="1048.5" cy="367.5" r="3.7"/><circle cx="1048.5" cy="374.5" r="3.7"/><circle cx="1048.5" cy="382.5" r="3.7"/><path d="M1048.5 339.5V349.5" stroke="#000" stroke-opacity="1" stroke-width="7.6" stroke-linecap="round"/></g>
<path d="M1048.5 210V259M1048.5 290.5V339.5" stroke="#1a1a1a" stroke-width="3.7" fill="none"/>
<path d="M1038.9 210H1058.1M1038.9 339.5H1058.1" stroke="#1a1a1a" stroke-width="3.7" fill="none"/>
<circle cx="1048.5" cy="210" r="3.6" fill="#111"/><circle cx="1048.5" cy="339.5" r="3.6" fill="#111"/>
<rect x="1029.7" y="259" width="37.6" height="31.5" fill="#eaeaea" stroke="#151515" stroke-width="2" stroke-linejoin="round"/>
<path d="M1029.7 274.5H1067.3" stroke="#151515" stroke-width="2"/>
<g fill="none" stroke="#000" stroke-opacity="0.42" stroke-width="0.9"><circle cx="1124.5" cy="316.5" r="3.7"/><circle cx="1124.5" cy="316.1" r="3.7"/><circle cx="1124.5" cy="315.6" r="3.7"/><circle cx="1124.5" cy="315.1" r="3.7"/><circle cx="1124.5" cy="314.7" r="3.7"/><circle cx="1124.5" cy="314.2" r="3.7"/><circle cx="1124.5" cy="313.8" r="3.7"/><circle cx="1124.5" cy="313.4" r="3.7"/><circle cx="1124.5" cy="312.9" r="3.7"/><circle cx="1124.5" cy="312.4" r="3.7"/><circle cx="1124.5" cy="312.0" r="3.7"/><circle cx="1124.5" cy="311.6" r="3.7"/><circle cx="1124.5" cy="311.1" r="3.7"/><circle cx="1124.5" cy="310.6" r="3.7"/><circle cx="1124.5" cy="310.2" r="3.7"/><circle cx="1124.5" cy="309.8" r="3.7"/><circle cx="1124.5" cy="309.3" r="3.7"/><circle cx="1124.5" cy="308.9" r="3.7"/><circle cx="1124.5" cy="308.4" r="3.7"/><circle cx="1124.5" cy="307.9" r="3.7"/><circle cx="1124.5" cy="307.5" r="3.7"/><circle cx="1124.5" cy="307.1" r="3.7"/><circle cx="1124.5" cy="306.6" r="3.7"/><circle cx="1124.5" cy="306.1" r="3.7"/><circle cx="1124.5" cy="305.7" r="3.7"/><circle cx="1124.5" cy="305.2" r="3.7"/><circle cx="1124.5" cy="304.8" r="3.7"/><circle cx="1124.5" cy="304.4" r="3.7"/><circle cx="1124.5" cy="303.9" r="3.7"/><circle cx="1124.5" cy="303.4" r="3.7"/><circle cx="1124.5" cy="303.0" r="3.7"/><circle cx="1124.5" cy="302.6" r="3.7"/><circle cx="1124.5" cy="302.1" r="3.7"/><circle cx="1124.5" cy="301.7" r="3.7"/><circle cx="1124.5" cy="301.2" r="3.7"/><circle cx="1124.5" cy="300.8" r="3.7"/><circle cx="1124.5" cy="300.3" r="3.7"/><circle cx="1124.5" cy="299.9" r="3.7"/><circle cx="1124.5" cy="299.4" r="3.7"/><circle cx="1124.5" cy="298.9" r="3.7"/><circle cx="1124.5" cy="298.5" r="3.7"/><circle cx="1124.5" cy="298.1" r="3.7"/><circle cx="1124.5" cy="297.6" r="3.7"/><circle cx="1124.5" cy="297.2" r="3.7"/><circle cx="1124.5" cy="296.7" r="3.7"/><circle cx="1124.5" cy="296.2" r="3.7"/><circle cx="1124.5" cy="295.8" r="3.7"/><circle cx="1124.5" cy="295.4" r="3.7"/><circle cx="1124.5" cy="294.9" r="3.7"/><circle cx="1124.5" cy="294.5" r="3.7"/><circle cx="1124.5" cy="294.0" r="3.7"/><circle cx="1124.5" cy="293.5" r="3.7"/><circle cx="1124.5" cy="293.0" r="3.7"/><circle cx="1124.5" cy="292.5" r="3.7"/><circle cx="1124.5" cy="291.9" r="3.7"/><circle cx="1124.5" cy="291.2" r="3.7"/><circle cx="1124.5" cy="290.4" r="3.7"/><circle cx="1124.5" cy="289.6" r="3.7"/><circle cx="1124.5" cy="288.5" r="3.7"/><circle cx="1124.5" cy="287.3" r="3.7"/><circle cx="1124.5" cy="285.8" r="3.7"/><circle cx="1124.5" cy="283.8" r="3.7"/><circle cx="1124.5" cy="280.9" r="3.7"/><circle cx="1124.5" cy="279.2" r="3.7"/><path d="M1124.5 316.5V296.4" stroke="#000" stroke-opacity="1" stroke-width="7.6" stroke-linecap="round"/><circle cx="1124.5" cy="424.0" r="3.7"/><circle cx="1124.5" cy="424.4" r="3.7"/><circle cx="1124.5" cy="424.9" r="3.7"/><circle cx="1124.5" cy="425.4" r="3.7"/><circle cx="1124.5" cy="425.8" r="3.7"/><circle cx="1124.5" cy="426.2" r="3.7"/><circle cx="1124.5" cy="426.7" r="3.7"/><circle cx="1124.5" cy="427.1" r="3.7"/><circle cx="1124.5" cy="427.6" r="3.7"/><circle cx="1124.5" cy="428.1" r="3.7"/><circle cx="1124.5" cy="428.5" r="3.7"/><circle cx="1124.5" cy="429.0" r="3.7"/><circle cx="1124.5" cy="429.8" r="3.7"/><circle cx="1124.5" cy="431.2" r="3.7"/><path d="M1124.5 424V427.9" stroke="#000" stroke-opacity="1" stroke-width="7.6" stroke-linecap="round"/></g>
<path d="M1124.5 316.5V357.5M1124.5 383.25V424" stroke="#1a1a1a" stroke-width="3.7" fill="none"/>
<path d="M1114.9 316.5H1134.1M1114.9 424H1134.1" stroke="#1a1a1a" stroke-width="3.7" fill="none"/>
<circle cx="1124.5" cy="316.5" r="3.6" fill="#111"/><circle cx="1124.5" cy="424" r="3.6" fill="#111"/>
<rect x="1105.7" y="357.5" width="37.6" height="25.75" fill="#eaeaea" stroke="#151515" stroke-width="2" stroke-linejoin="round"/>
<path d="M1105.7 370.5H1143.3" stroke="#151515" stroke-width="2"/>
<g fill="none" stroke="#000" stroke-opacity="0.42" stroke-width="0.9"><circle cx="1200.25" cy="244.0" r="3.7"/><circle cx="1200.25" cy="243.6" r="3.7"/><circle cx="1200.25" cy="243.1" r="3.7"/><circle cx="1200.25" cy="242.7" r="3.7"/><circle cx="1200.25" cy="242.2" r="3.7"/><circle cx="1200.25" cy="241.8" r="3.7"/><circle cx="1200.25" cy="241.3" r="3.7"/><circle cx="1200.25" cy="240.8" r="3.7"/><circle cx="1200.25" cy="240.4" r="3.7"/><circle cx="1200.25" cy="239.9" r="3.7"/><circle cx="1200.25" cy="239.5" r="3.7"/><circle cx="1200.25" cy="239.1" r="3.7"/><circle cx="1200.25" cy="238.6" r="3.7"/><circle cx="1200.25" cy="238.2" r="3.7"/><circle cx="1200.25" cy="237.7" r="3.7"/><circle cx="1200.25" cy="237.2" r="3.7"/><circle cx="1200.25" cy="236.8" r="3.7"/><circle cx="1200.25" cy="236.3" r="3.7"/><circle cx="1200.25" cy="235.9" r="3.7"/><circle cx="1200.25" cy="235.4" r="3.7"/><circle cx="1200.25" cy="235.0" r="3.7"/><circle cx="1200.25" cy="234.6" r="3.7"/><circle cx="1200.25" cy="234.1" r="3.7"/><circle cx="1200.25" cy="233.7" r="3.7"/><circle cx="1200.25" cy="233.2" r="3.7"/><circle cx="1200.25" cy="232.8" r="3.7"/><circle cx="1200.25" cy="232.3" r="3.7"/><circle cx="1200.25" cy="231.8" r="3.7"/><circle cx="1200.25" cy="231.4" r="3.7"/><circle cx="1200.25" cy="231.0" r="3.7"/><circle cx="1200.25" cy="230.5" r="3.7"/><circle cx="1200.25" cy="230.1" r="3.7"/><circle cx="1200.25" cy="229.6" r="3.7"/><circle cx="1200.25" cy="229.2" r="3.7"/><circle cx="1200.25" cy="228.7" r="3.7"/><circle cx="1200.25" cy="228.2" r="3.7"/><circle cx="1200.25" cy="227.8" r="3.7"/><circle cx="1200.25" cy="227.4" r="3.7"/><circle cx="1200.25" cy="226.9" r="3.7"/><circle cx="1200.25" cy="226.5" r="3.7"/><circle cx="1200.25" cy="226.0" r="3.7"/><circle cx="1200.25" cy="225.6" r="3.7"/><circle cx="1200.25" cy="225.1" r="3.7"/><circle cx="1200.25" cy="224.7" r="3.7"/><circle cx="1200.25" cy="224.2" r="3.7"/><circle cx="1200.25" cy="223.8" r="3.7"/><circle cx="1200.25" cy="223.3" r="3.7"/><circle cx="1200.25" cy="222.9" r="3.7"/><circle cx="1200.25" cy="222.4" r="3.7"/><circle cx="1200.25" cy="222.0" r="3.7"/><circle cx="1200.25" cy="221.5" r="3.7"/><circle cx="1200.25" cy="221.1" r="3.7"/><circle cx="1200.25" cy="220.6" r="3.7"/><circle cx="1200.25" cy="220.2" r="3.7"/><circle cx="1200.25" cy="219.7" r="3.7"/><circle cx="1200.25" cy="219.3" r="3.7"/><circle cx="1200.25" cy="218.8" r="3.7"/><circle cx="1200.25" cy="218.4" r="3.7"/><circle cx="1200.25" cy="217.9" r="3.7"/><circle cx="1200.25" cy="217.5" r="3.7"/><circle cx="1200.25" cy="217.0" r="3.7"/><circle cx="1200.25" cy="216.6" r="3.7"/><circle cx="1200.25" cy="216.1" r="3.7"/><circle cx="1200.25" cy="215.7" r="3.7"/><circle cx="1200.25" cy="215.2" r="3.7"/><circle cx="1200.25" cy="214.8" r="3.7"/><circle cx="1200.25" cy="214.3" r="3.7"/><circle cx="1200.25" cy="213.8" r="3.7"/><circle cx="1200.25" cy="213.3" r="3.7"/><circle cx="1200.25" cy="212.8" r="3.7"/><circle cx="1200.25" cy="212.2" r="3.7"/><circle cx="1200.25" cy="211.6" r="3.7"/><circle cx="1200.25" cy="210.9" r="3.7"/><circle cx="1200.25" cy="210.2" r="3.7"/><circle cx="1200.25" cy="209.4" r="3.7"/><circle cx="1200.25" cy="208.4" r="3.7"/><circle cx="1200.25" cy="207.4" r="3.7"/><circle cx="1200.25" cy="206.2" r="3.7"/><circle cx="1200.25" cy="204.8" r="3.7"/><circle cx="1200.25" cy="203.1" r="3.7"/><circle cx="1200.25" cy="200.9" r="3.7"/><circle cx="1200.25" cy="198.0" r="3.7"/><circle cx="1200.25" cy="195.0" r="3.7"/><path d="M1200.25 244V217.5" stroke="#000" stroke-opacity="1" stroke-width="7.6" stroke-linecap="round"/><circle cx="1200.25" cy="401.2" r="3.7"/><circle cx="1200.25" cy="401.7" r="3.7"/><circle cx="1200.25" cy="402.1" r="3.7"/><circle cx="1200.25" cy="402.6" r="3.7"/><circle cx="1200.25" cy="403.1" r="3.7"/><circle cx="1200.25" cy="403.5" r="3.7"/><circle cx="1200.25" cy="403.9" r="3.7"/><circle cx="1200.25" cy="404.4" r="3.7"/><circle cx="1200.25" cy="404.9" r="3.7"/><circle cx="1200.25" cy="405.3" r="3.7"/><circle cx="1200.25" cy="405.8" r="3.7"/><circle cx="1200.25" cy="406.2" r="3.7"/><circle cx="1200.25" cy="406.6" r="3.7"/><circle cx="1200.25" cy="407.1" r="3.7"/><circle cx="1200.25" cy="407.6" r="3.7"/><circle cx="1200.25" cy="408.0" r="3.7"/><circle cx="1200.25" cy="408.4" r="3.7"/><circle cx="1200.25" cy="408.9" r="3.7"/><circle cx="1200.25" cy="409.4" r="3.7"/><circle cx="1200.25" cy="409.8" r="3.7"/><circle cx="1200.25" cy="410.2" r="3.7"/><circle cx="1200.25" cy="410.7" r="3.7"/><circle cx="1200.25" cy="411.1" r="3.7"/><circle cx="1200.25" cy="411.6" r="3.7"/><circle cx="1200.25" cy="412.1" r="3.7"/><circle cx="1200.25" cy="412.5" r="3.7"/><circle cx="1200.25" cy="412.9" r="3.7"/><circle cx="1200.25" cy="413.4" r="3.7"/><circle cx="1200.25" cy="413.9" r="3.7"/><circle cx="1200.25" cy="414.3" r="3.7"/><circle cx="1200.25" cy="414.8" r="3.7"/><circle cx="1200.25" cy="415.2" r="3.7"/><circle cx="1200.25" cy="415.6" r="3.7"/><circle cx="1200.25" cy="416.1" r="3.7"/><circle cx="1200.25" cy="416.6" r="3.7"/><circle cx="1200.25" cy="417.0" r="3.7"/><circle cx="1200.25" cy="417.4" r="3.7"/><circle cx="1200.25" cy="417.9" r="3.7"/><circle cx="1200.25" cy="418.3" r="3.7"/><circle cx="1200.25" cy="418.9" r="3.7"/><circle cx="1200.25" cy="419.4" r="3.7"/><circle cx="1200.25" cy="420.1" r="3.7"/><circle cx="1200.25" cy="420.8" r="3.7"/><circle cx="1200.25" cy="421.7" r="3.7"/><circle cx="1200.25" cy="422.9" r="3.7"/><circle cx="1200.25" cy="424.3" r="3.7"/><circle cx="1200.25" cy="426.5" r="3.7"/><circle cx="1200.25" cy="429.0" r="3.7"/><circle cx="1200.25" cy="438.0" r="3.7"/><path d="M1200.25 401.25V416.2" stroke="#000" stroke-opacity="1" stroke-width="7.6" stroke-linecap="round"/></g>
<path d="M1200.25 244V303M1200.25 342V401.25" stroke="#1a1a1a" stroke-width="3.7" fill="none"/>
<path d="M1190.65 244H1209.85M1190.65 401.25H1209.85" stroke="#1a1a1a" stroke-width="3.7" fill="none"/>
<circle cx="1200.25" cy="244" r="3.6" fill="#111"/><circle cx="1200.25" cy="401.25" r="3.6" fill="#111"/>
<rect x="1181.45" y="303" width="37.6" height="39" fill="#eaeaea" stroke="#151515" stroke-width="2" stroke-linejoin="round"/>
<path d="M1181.45 322.75H1219.05" stroke="#151515" stroke-width="2"/>
<g fill="none" stroke="#000" stroke-opacity="0.42" stroke-width="0.9"><circle cx="1276" cy="296.5" r="3.7"/><circle cx="1276" cy="296.1" r="3.7"/><circle cx="1276" cy="295.6" r="3.7"/><circle cx="1276" cy="295.1" r="3.7"/><circle cx="1276" cy="294.7" r="3.7"/><circle cx="1276" cy="294.2" r="3.7"/><circle cx="1276" cy="293.8" r="3.7"/><circle cx="1276" cy="293.4" r="3.7"/><circle cx="1276" cy="292.9" r="3.7"/><circle cx="1276" cy="292.4" r="3.7"/><circle cx="1276" cy="292.0" r="3.7"/><circle cx="1276" cy="291.6" r="3.7"/><circle cx="1276" cy="291.1" r="3.7"/><circle cx="1276" cy="290.6" r="3.7"/><circle cx="1276" cy="290.2" r="3.7"/><circle cx="1276" cy="289.8" r="3.7"/><circle cx="1276" cy="289.3" r="3.7"/><circle cx="1276" cy="288.9" r="3.7"/><circle cx="1276" cy="288.4" r="3.7"/><circle cx="1276" cy="287.9" r="3.7"/><circle cx="1276" cy="287.5" r="3.7"/><circle cx="1276" cy="287.1" r="3.7"/><circle cx="1276" cy="286.6" r="3.7"/><circle cx="1276" cy="286.1" r="3.7"/><circle cx="1276" cy="285.7" r="3.7"/><circle cx="1276" cy="285.2" r="3.7"/><circle cx="1276" cy="284.8" r="3.7"/><circle cx="1276" cy="284.4" r="3.7"/><circle cx="1276" cy="283.9" r="3.7"/><circle cx="1276" cy="283.4" r="3.7"/><circle cx="1276" cy="283.0" r="3.7"/><circle cx="1276" cy="282.6" r="3.7"/><circle cx="1276" cy="282.1" r="3.7"/><circle cx="1276" cy="281.7" r="3.7"/><circle cx="1276" cy="281.2" r="3.7"/><circle cx="1276" cy="280.8" r="3.7"/><circle cx="1276" cy="280.3" r="3.7"/><circle cx="1276" cy="279.9" r="3.7"/><circle cx="1276" cy="279.4" r="3.7"/><circle cx="1276" cy="278.9" r="3.7"/><circle cx="1276" cy="278.5" r="3.7"/><circle cx="1276" cy="278.1" r="3.7"/><circle cx="1276" cy="277.6" r="3.7"/><circle cx="1276" cy="277.2" r="3.7"/><circle cx="1276" cy="276.7" r="3.7"/><circle cx="1276" cy="276.2" r="3.7"/><circle cx="1276" cy="275.8" r="3.7"/><circle cx="1276" cy="275.4" r="3.7"/><circle cx="1276" cy="274.9" r="3.7"/><circle cx="1276" cy="274.5" r="3.7"/><circle cx="1276" cy="274.0" r="3.7"/><circle cx="1276" cy="273.6" r="3.7"/><circle cx="1276" cy="273.1" r="3.7"/><circle cx="1276" cy="272.7" r="3.7"/><circle cx="1276" cy="272.2" r="3.7"/><circle cx="1276" cy="271.8" r="3.7"/><circle cx="1276" cy="271.3" r="3.7"/><circle cx="1276" cy="270.9" r="3.7"/><circle cx="1276" cy="270.4" r="3.7"/><circle cx="1276" cy="269.9" r="3.7"/><circle cx="1276" cy="269.4" r="3.7"/><circle cx="1276" cy="268.8" r="3.7"/><circle cx="1276" cy="268.2" r="3.7"/><circle cx="1276" cy="267.5" r="3.7"/><circle cx="1276" cy="266.8" r="3.7"/><circle cx="1276" cy="265.9" r="3.7"/><circle cx="1276" cy="265.0" r="3.7"/><circle cx="1276" cy="263.8" r="3.7"/><circle cx="1276" cy="262.5" r="3.7"/><circle cx="1276" cy="260.8" r="3.7"/><circle cx="1276" cy="258.7" r="3.7"/><circle cx="1276" cy="255.7" r="3.7"/><circle cx="1276" cy="253.8" r="3.7"/><circle cx="1276" cy="239.5" r="3.7"/><circle cx="1276" cy="245.0" r="3.7"/><path d="M1276 296.5V273.4" stroke="#000" stroke-opacity="1" stroke-width="7.6" stroke-linecap="round"/><circle cx="1276" cy="425.0" r="3.7"/><circle cx="1276" cy="425.4" r="3.7"/><circle cx="1276" cy="425.9" r="3.7"/><circle cx="1276" cy="426.4" r="3.7"/><circle cx="1276" cy="426.8" r="3.7"/><circle cx="1276" cy="427.2" r="3.7"/><circle cx="1276" cy="427.7" r="3.7"/><circle cx="1276" cy="428.1" r="3.7"/><circle cx="1276" cy="428.6" r="3.7"/><circle cx="1276" cy="429.1" r="3.7"/><circle cx="1276" cy="429.5" r="3.7"/><circle cx="1276" cy="429.9" r="3.7"/><circle cx="1276" cy="430.4" r="3.7"/><circle cx="1276" cy="430.9" r="3.7"/><circle cx="1276" cy="431.3" r="3.7"/><circle cx="1276" cy="431.8" r="3.7"/><circle cx="1276" cy="432.2" r="3.7"/><circle cx="1276" cy="432.6" r="3.7"/><circle cx="1276" cy="433.1" r="3.7"/><circle cx="1276" cy="433.6" r="3.7"/><circle cx="1276" cy="434.0" r="3.7"/><circle cx="1276" cy="434.4" r="3.7"/><circle cx="1276" cy="434.9" r="3.7"/><circle cx="1276" cy="435.4" r="3.7"/><circle cx="1276" cy="435.8" r="3.7"/><circle cx="1276" cy="436.2" r="3.7"/><circle cx="1276" cy="436.7" r="3.7"/><circle cx="1276" cy="437.2" r="3.7"/><circle cx="1276" cy="437.9" r="3.7"/><circle cx="1276" cy="438.7" r="3.7"/><circle cx="1276" cy="439.7" r="3.7"/><circle cx="1276" cy="441.3" r="3.7"/><circle cx="1276" cy="443.8" r="3.7"/><path d="M1276 425V435.1" stroke="#000" stroke-opacity="1" stroke-width="7.6" stroke-linecap="round"/></g>
<path d="M1276 296.5V345.25M1276 376.5V425" stroke="#1a1a1a" stroke-width="3.7" fill="none"/>
<path d="M1266.4 296.5H1285.6M1266.4 425H1285.6" stroke="#1a1a1a" stroke-width="3.7" fill="none"/>
<circle cx="1276" cy="296.5" r="3.6" fill="#111"/><circle cx="1276" cy="425" r="3.6" fill="#111"/>
<rect x="1257.2" y="345.25" width="37.6" height="31.25" fill="#eaeaea" stroke="#151515" stroke-width="2" stroke-linejoin="round"/>
<path d="M1257.2 361.25H1294.8" stroke="#151515" stroke-width="2"/>
<g fill="none" stroke="#000" stroke-opacity="0.42" stroke-width="0.9"><circle cx="201" cy="643.0" r="3.7"/><circle cx="201" cy="642.5" r="3.7"/><circle cx="201" cy="642.1" r="3.7"/><circle cx="201" cy="641.6" r="3.7"/><circle cx="201" cy="641.2" r="3.7"/><circle cx="201" cy="640.8" r="3.7"/><circle cx="201" cy="640.3" r="3.7"/><circle cx="201" cy="639.9" r="3.7"/><circle cx="201" cy="639.4" r="3.7"/><circle cx="201" cy="639.0" r="3.7"/><circle cx="201" cy="638.5" r="3.7"/><circle cx="201" cy="638.0" r="3.7"/><circle cx="201" cy="637.6" r="3.7"/><circle cx="201" cy="637.1" r="3.7"/><circle cx="201" cy="636.7" r="3.7"/><circle cx="201" cy="636.2" r="3.7"/><circle cx="201" cy="635.8" r="3.7"/><circle cx="201" cy="635.4" r="3.7"/><circle cx="201" cy="634.9" r="3.7"/><circle cx="201" cy="634.5" r="3.7"/><circle cx="201" cy="634.0" r="3.7"/><circle cx="201" cy="633.5" r="3.7"/><circle cx="201" cy="633.1" r="3.7"/><circle cx="201" cy="632.6" r="3.7"/><circle cx="201" cy="632.2" r="3.7"/><circle cx="201" cy="631.8" r="3.7"/><circle cx="201" cy="631.3" r="3.7"/><circle cx="201" cy="630.9" r="3.7"/><circle cx="201" cy="630.4" r="3.7"/><circle cx="201" cy="630.0" r="3.7"/><circle cx="201" cy="629.5" r="3.7"/><circle cx="201" cy="629.0" r="3.7"/><circle cx="201" cy="628.6" r="3.7"/><circle cx="201" cy="628.1" r="3.7"/><circle cx="201" cy="627.7" r="3.7"/><circle cx="201" cy="627.2" r="3.7"/><circle cx="201" cy="626.8" r="3.7"/><circle cx="201" cy="626.4" r="3.7"/><circle cx="201" cy="625.9" r="3.7"/><circle cx="201" cy="625.4" r="3.7"/><circle cx="201" cy="624.9" r="3.7"/><circle cx="201" cy="624.4" r="3.7"/><circle cx="201" cy="623.8" r="3.7"/><circle cx="201" cy="623.2" r="3.7"/><circle cx="201" cy="622.5" r="3.7"/><circle cx="201" cy="621.7" r="3.7"/><circle cx="201" cy="620.9" r="3.7"/><circle cx="201" cy="620.0" r="3.7"/><circle cx="201" cy="618.9" r="3.7"/><circle cx="201" cy="617.8" r="3.7"/><circle cx="201" cy="616.4" r="3.7"/><circle cx="201" cy="614.7" r="3.7"/><circle cx="201" cy="612.6" r="3.7"/><circle cx="201" cy="609.9" r="3.7"/><circle cx="201" cy="606.0" r="3.7"/><circle cx="201" cy="585.8" r="3.7"/><circle cx="201" cy="595.0" r="3.7"/><circle cx="201" cy="600.0" r="3.7"/><path d="M201 643V628.0" stroke="#000" stroke-opacity="1" stroke-width="7.6" stroke-linecap="round"/><circle cx="201" cy="775.2" r="3.7"/><circle cx="201" cy="775.7" r="3.7"/><circle cx="201" cy="776.1" r="3.7"/><circle cx="201" cy="776.6" r="3.7"/><circle cx="201" cy="777.0" r="3.7"/><circle cx="201" cy="777.5" r="3.7"/><circle cx="201" cy="778.0" r="3.7"/><circle cx="201" cy="778.4" r="3.7"/><circle cx="201" cy="778.9" r="3.7"/><circle cx="201" cy="779.3" r="3.7"/><circle cx="201" cy="779.8" r="3.7"/><circle cx="201" cy="780.2" r="3.7"/><circle cx="201" cy="780.6" r="3.7"/><circle cx="201" cy="781.1" r="3.7"/><circle cx="201" cy="781.5" r="3.7"/><circle cx="201" cy="782.0" r="3.7"/><circle cx="201" cy="782.5" r="3.7"/><circle cx="201" cy="782.9" r="3.7"/><circle cx="201" cy="783.4" r="3.7"/><circle cx="201" cy="783.8" r="3.7"/><circle cx="201" cy="784.2" r="3.7"/><circle cx="201" cy="784.7" r="3.7"/><circle cx="201" cy="785.1" r="3.7"/><circle cx="201" cy="785.6" r="3.7"/><circle cx="201" cy="786.0" r="3.7"/><circle cx="201" cy="786.5" r="3.7"/><circle cx="201" cy="787.0" r="3.7"/><circle cx="201" cy="787.4" r="3.7"/><circle cx="201" cy="787.9" r="3.7"/><circle cx="201" cy="788.3" r="3.7"/><circle cx="201" cy="788.8" r="3.7"/><circle cx="201" cy="789.2" r="3.7"/><circle cx="201" cy="789.6" r="3.7"/><circle cx="201" cy="790.1" r="3.7"/><circle cx="201" cy="790.5" r="3.7"/><circle cx="201" cy="791.0" r="3.7"/><circle cx="201" cy="791.5" r="3.7"/><circle cx="201" cy="791.9" r="3.7"/><circle cx="201" cy="792.4" r="3.7"/><circle cx="201" cy="792.8" r="3.7"/><circle cx="201" cy="793.2" r="3.7"/><circle cx="201" cy="793.7" r="3.7"/><circle cx="201" cy="794.2" r="3.7"/><circle cx="201" cy="794.7" r="3.7"/><circle cx="201" cy="795.3" r="3.7"/><circle cx="201" cy="795.9" r="3.7"/><circle cx="201" cy="796.6" r="3.7"/><circle cx="201" cy="797.3" r="3.7"/><circle cx="201" cy="798.0" r="3.7"/><circle cx="201" cy="798.9" r="3.7"/><circle cx="201" cy="799.8" r="3.7"/><circle cx="201" cy="800.9" r="3.7"/><circle cx="201" cy="802.1" r="3.7"/><circle cx="201" cy="803.5" r="3.7"/><circle cx="201" cy="805.2" r="3.7"/><circle cx="201" cy="807.2" r="3.7"/><circle cx="201" cy="809.9" r="3.7"/><circle cx="201" cy="813.5" r="3.7"/><circle cx="201" cy="814.5" r="3.7"/><path d="M201 775.25V791.1" stroke="#000" stroke-opacity="1" stroke-width="7.6" stroke-linecap="round"/></g>
<path d="M201 643V693M201 725.5V775.25" stroke="#1a1a1a" stroke-width="3.7" fill="none"/>
<path d="M186 643H216M186 775.25H216" stroke="#1a1a1a" stroke-width="3.7" fill="none"/>
<circle cx="201" cy="643" r="3.6" fill="#111"/><circle cx="201" cy="775.25" r="3.6" fill="#111"/>
<rect x="171" y="693" width="60" height="32.5" fill="#eaeaea" stroke="#151515" stroke-width="2" stroke-linejoin="round"/>
<path d="M171 709.25H231" stroke="#151515" stroke-width="2"/>
<g fill="none" stroke="#000" stroke-opacity="0.42" stroke-width="0.9"><circle cx="322" cy="630.8" r="3.7"/><circle cx="322" cy="630.3" r="3.7"/><circle cx="322" cy="629.9" r="3.7"/><circle cx="322" cy="629.4" r="3.7"/><circle cx="322" cy="629.0" r="3.7"/><circle cx="322" cy="628.5" r="3.7"/><circle cx="322" cy="628.0" r="3.7"/><circle cx="322" cy="627.6" r="3.7"/><circle cx="322" cy="627.1" r="3.7"/><circle cx="322" cy="626.7" r="3.7"/><circle cx="322" cy="626.2" r="3.7"/><circle cx="322" cy="625.8" r="3.7"/><circle cx="322" cy="625.4" r="3.7"/><circle cx="322" cy="624.9" r="3.7"/><circle cx="322" cy="624.5" r="3.7"/><circle cx="322" cy="624.0" r="3.7"/><circle cx="322" cy="623.5" r="3.7"/><circle cx="322" cy="623.1" r="3.7"/><circle cx="322" cy="622.6" r="3.7"/><circle cx="322" cy="622.2" r="3.7"/><circle cx="322" cy="621.8" r="3.7"/><circle cx="322" cy="621.3" r="3.7"/><circle cx="322" cy="620.9" r="3.7"/><circle cx="322" cy="620.4" r="3.7"/><circle cx="322" cy="620.0" r="3.7"/><circle cx="322" cy="619.5" r="3.7"/><circle cx="322" cy="619.0" r="3.7"/><circle cx="322" cy="618.5" r="3.7"/><circle cx="322" cy="617.9" r="3.7"/><circle cx="322" cy="617.3" r="3.7"/><circle cx="322" cy="616.6" r="3.7"/><circle cx="322" cy="615.7" r="3.7"/><circle cx="322" cy="614.7" r="3.7"/><circle cx="322" cy="613.5" r="3.7"/><circle cx="322" cy="612.0" r="3.7"/><circle cx="322" cy="609.9" r="3.7"/><circle cx="322" cy="606.2" r="3.7"/><path d="M322 630.75V620.8" stroke="#000" stroke-opacity="1" stroke-width="7.6" stroke-linecap="round"/><circle cx="322" cy="759.2" r="3.7"/><circle cx="322" cy="759.7" r="3.7"/><circle cx="322" cy="760.1" r="3.7"/><circle cx="322" cy="760.6" r="3.7"/><circle cx="322" cy="761.0" r="3.7"/><circle cx="322" cy="761.5" r="3.7"/><circle cx="322" cy="762.0" r="3.7"/><circle cx="322" cy="762.4" r="3.7"/><circle cx="322" cy="762.9" r="3.7"/><circle cx="322" cy="763.3" r="3.7"/><circle cx="322" cy="763.8" r="3.7"/><circle cx="322" cy="764.2" r="3.7"/><circle cx="322" cy="764.6" r="3.7"/><circle cx="322" cy="765.1" r="3.7"/><circle cx="322" cy="765.5" r="3.7"/><circle cx="322" cy="766.0" r="3.7"/><circle cx="322" cy="766.5" r="3.7"/><circle cx="322" cy="766.9" r="3.7"/><circle cx="322" cy="767.4" r="3.7"/><circle cx="322" cy="767.8" r="3.7"/><circle cx="322" cy="768.2" r="3.7"/><circle cx="322" cy="768.7" r="3.7"/><circle cx="322" cy="769.1" r="3.7"/><circle cx="322" cy="769.6" r="3.7"/><circle cx="322" cy="770.0" r="3.7"/><circle cx="322" cy="770.5" r="3.7"/><circle cx="322" cy="771.0" r="3.7"/><circle cx="322" cy="771.4" r="3.7"/><circle cx="322" cy="771.9" r="3.7"/><circle cx="322" cy="772.3" r="3.7"/><circle cx="322" cy="772.8" r="3.7"/><circle cx="322" cy="773.2" r="3.7"/><circle cx="322" cy="773.6" r="3.7"/><circle cx="322" cy="774.1" r="3.7"/><circle cx="322" cy="774.5" r="3.7"/><circle cx="322" cy="775.0" r="3.7"/><circle cx="322" cy="775.5" r="3.7"/><circle cx="322" cy="776.1" r="3.7"/><circle cx="322" cy="776.7" r="3.7"/><circle cx="322" cy="777.3" r="3.7"/><circle cx="322" cy="778.0" r="3.7"/><circle cx="322" cy="778.8" r="3.7"/><circle cx="322" cy="779.7" r="3.7"/><circle cx="322" cy="780.7" r="3.7"/><circle cx="322" cy="781.8" r="3.7"/><circle cx="322" cy="783.2" r="3.7"/><circle cx="322" cy="784.9" r="3.7"/><circle cx="322" cy="787.0" r="3.7"/><circle cx="322" cy="789.9" r="3.7"/><circle cx="322" cy="792.5" r="3.7"/><path d="M322 759.25V772.7" stroke="#000" stroke-opacity="1" stroke-width="7.6" stroke-linecap="round"/></g>
<path d="M322 630.75V679M322 710.5V759.25" stroke="#1a1a1a" stroke-width="3.7" fill="none"/>
<path d="M307 630.75H337M307 759.25H337" stroke="#1a1a1a" stroke-width="3.7" fill="none"/>
<circle cx="322" cy="630.75" r="3.6" fill="#111"/><circle cx="322" cy="759.25" r="3.6" fill="#111"/>
<rect x="292" y="679" width="60" height="31.5" fill="#eaeaea" stroke="#151515" stroke-width="2" stroke-linejoin="round"/>
<path d="M292 694.5H352" stroke="#151515" stroke-width="2"/>
<g fill="none" stroke="#000" stroke-opacity="0.42" stroke-width="0.9"><circle cx="443" cy="658.5" r="3.7"/><circle cx="443" cy="658.0" r="3.7"/><circle cx="443" cy="657.6" r="3.7"/><circle cx="443" cy="657.1" r="3.7"/><circle cx="443" cy="656.7" r="3.7"/><circle cx="443" cy="656.2" r="3.7"/><circle cx="443" cy="655.8" r="3.7"/><circle cx="443" cy="655.4" r="3.7"/><circle cx="443" cy="654.9" r="3.7"/><circle cx="443" cy="654.5" r="3.7"/><circle cx="443" cy="654.0" r="3.7"/><circle cx="443" cy="653.5" r="3.7"/><circle cx="443" cy="653.1" r="3.7"/><circle cx="443" cy="652.6" r="3.7"/><circle cx="443" cy="652.2" r="3.7"/><circle cx="443" cy="651.8" r="3.7"/><circle cx="443" cy="651.3" r="3.7"/><circle cx="443" cy="650.9" r="3.7"/><circle cx="443" cy="650.4" r="3.7"/><circle cx="443" cy="650.0" r="3.7"/><circle cx="443" cy="649.5" r="3.7"/><circle cx="443" cy="649.0" r="3.7"/><circle cx="443" cy="648.6" r="3.7"/><circle cx="443" cy="648.1" r="3.7"/><circle cx="443" cy="647.7" r="3.7"/><circle cx="443" cy="647.2" r="3.7"/><circle cx="443" cy="646.8" r="3.7"/><circle cx="443" cy="646.4" r="3.7"/><circle cx="443" cy="645.9" r="3.7"/><circle cx="443" cy="645.5" r="3.7"/><circle cx="443" cy="645.0" r="3.7"/><circle cx="443" cy="644.5" r="3.7"/><circle cx="443" cy="644.1" r="3.7"/><circle cx="443" cy="643.6" r="3.7"/><circle cx="443" cy="643.2" r="3.7"/><circle cx="443" cy="642.8" r="3.7"/><circle cx="443" cy="642.3" r="3.7"/><circle cx="443" cy="641.9" r="3.7"/><circle cx="443" cy="641.4" r="3.7"/><circle cx="443" cy="641.0" r="3.7"/><circle cx="443" cy="640.5" r="3.7"/><circle cx="443" cy="640.1" r="3.7"/><circle cx="443" cy="639.6" r="3.7"/><circle cx="443" cy="639.1" r="3.7"/><circle cx="443" cy="638.7" r="3.7"/><circle cx="443" cy="638.2" r="3.7"/><circle cx="443" cy="637.8" r="3.7"/><circle cx="443" cy="637.2" r="3.7"/><circle cx="443" cy="636.7" r="3.7"/><circle cx="443" cy="636.1" r="3.7"/><circle cx="443" cy="635.5" r="3.7"/><circle cx="443" cy="634.8" r="3.7"/><circle cx="443" cy="634.1" r="3.7"/><circle cx="443" cy="633.4" r="3.7"/><circle cx="443" cy="632.5" r="3.7"/><circle cx="443" cy="631.6" r="3.7"/><circle cx="443" cy="630.6" r="3.7"/><circle cx="443" cy="629.5" r="3.7"/><circle cx="443" cy="628.2" r="3.7"/><circle cx="443" cy="626.7" r="3.7"/><circle cx="443" cy="624.9" r="3.7"/><circle cx="443" cy="622.7" r="3.7"/><circle cx="443" cy="620.0" r="3.7"/><circle cx="443" cy="616.3" r="3.7"/><circle cx="443" cy="615.0" r="3.7"/><path d="M443 658.5V640.9" stroke="#000" stroke-opacity="1" stroke-width="7.6" stroke-linecap="round"/><circle cx="443" cy="788.6" r="3.7"/><circle cx="443" cy="789.1" r="3.7"/><circle cx="443" cy="789.5" r="3.7"/><circle cx="443" cy="790.0" r="3.7"/><circle cx="443" cy="790.4" r="3.7"/><circle cx="443" cy="790.9" r="3.7"/><circle cx="443" cy="791.3" r="3.7"/><circle cx="443" cy="791.8" r="3.7"/><circle cx="443" cy="792.2" r="3.7"/><circle cx="443" cy="792.6" r="3.7"/><circle cx="443" cy="793.1" r="3.7"/><circle cx="443" cy="793.6" r="3.7"/><circle cx="443" cy="794.0" r="3.7"/><circle cx="443" cy="794.5" r="3.7"/><circle cx="443" cy="794.9" r="3.7"/><circle cx="443" cy="795.4" r="3.7"/><circle cx="443" cy="795.8" r="3.7"/><circle cx="443" cy="796.2" r="3.7"/><circle cx="443" cy="796.7" r="3.7"/><circle cx="443" cy="797.1" r="3.7"/><circle cx="443" cy="797.6" r="3.7"/><circle cx="443" cy="798.1" r="3.7"/><circle cx="443" cy="798.5" r="3.7"/><circle cx="443" cy="799.0" r="3.7"/><circle cx="443" cy="799.4" r="3.7"/><circle cx="443" cy="799.9" r="3.7"/><circle cx="443" cy="800.3" r="3.7"/><circle cx="443" cy="800.8" r="3.7"/><circle cx="443" cy="801.2" r="3.7"/><circle cx="443" cy="801.6" r="3.7"/><circle cx="443" cy="802.1" r="3.7"/><circle cx="443" cy="802.6" r="3.7"/><circle cx="443" cy="803.0" r="3.7"/><circle cx="443" cy="803.5" r="3.7"/><circle cx="443" cy="803.9" r="3.7"/><circle cx="443" cy="804.4" r="3.7"/><circle cx="443" cy="804.8" r="3.7"/><circle cx="443" cy="805.2" r="3.7"/><circle cx="443" cy="805.7" r="3.7"/><circle cx="443" cy="806.2" r="3.7"/><circle cx="443" cy="806.6" r="3.7"/><circle cx="443" cy="807.2" r="3.7"/><circle cx="443" cy="807.7" r="3.7"/><circle cx="443" cy="808.3" r="3.7"/><circle cx="443" cy="809.0" r="3.7"/><circle cx="443" cy="809.7" r="3.7"/><circle cx="443" cy="810.4" r="3.7"/><circle cx="443" cy="811.3" r="3.7"/><circle cx="443" cy="812.2" r="3.7"/><circle cx="443" cy="813.3" r="3.7"/><circle cx="443" cy="814.5" r="3.7"/><circle cx="443" cy="815.9" r="3.7"/><circle cx="443" cy="817.6" r="3.7"/><circle cx="443" cy="819.8" r="3.7"/><circle cx="443" cy="822.6" r="3.7"/><circle cx="443" cy="826.2" r="3.7"/><path d="M443 788.6V803.8" stroke="#000" stroke-opacity="1" stroke-width="7.6" stroke-linecap="round"/></g>
<path d="M443 658.5V708M443 739.25V788.6" stroke="#1a1a1a" stroke-width="3.7" fill="none"/>
<path d="M428 658.5H458M428 788.6H458" stroke="#1a1a1a" stroke-width="3.7" fill="none"/>
<circle cx="443" cy="658.5" r="3.6" fill="#111"/><circle cx="443" cy="788.6" r="3.6" fill="#111"/>
<rect x="413" y="708" width="60" height="31.25" fill="#eaeaea" stroke="#151515" stroke-width="2" stroke-linejoin="round"/>
<path d="M413 723.5H473" stroke="#151515" stroke-width="2"/>
<g fill="none" stroke="#000" stroke-opacity="0.42" stroke-width="0.9"><circle cx="563.7" cy="654.8" r="3.7"/><circle cx="563.7" cy="654.3" r="3.7"/><circle cx="563.7" cy="653.9" r="3.7"/><circle cx="563.7" cy="653.4" r="3.7"/><circle cx="563.7" cy="653.0" r="3.7"/><circle cx="563.7" cy="652.5" r="3.7"/><circle cx="563.7" cy="652.0" r="3.7"/><circle cx="563.7" cy="651.6" r="3.7"/><circle cx="563.7" cy="651.1" r="3.7"/><circle cx="563.7" cy="650.7" r="3.7"/><circle cx="563.7" cy="650.2" r="3.7"/><circle cx="563.7" cy="649.8" r="3.7"/><circle cx="563.7" cy="649.4" r="3.7"/><circle cx="563.7" cy="648.9" r="3.7"/><circle cx="563.7" cy="648.5" r="3.7"/><circle cx="563.7" cy="648.0" r="3.7"/><circle cx="563.7" cy="647.5" r="3.7"/><circle cx="563.7" cy="647.1" r="3.7"/><circle cx="563.7" cy="646.6" r="3.7"/><circle cx="563.7" cy="646.2" r="3.7"/><circle cx="563.7" cy="645.8" r="3.7"/><circle cx="563.7" cy="645.3" r="3.7"/><circle cx="563.7" cy="644.9" r="3.7"/><circle cx="563.7" cy="644.4" r="3.7"/><circle cx="563.7" cy="644.0" r="3.7"/><circle cx="563.7" cy="643.5" r="3.7"/><circle cx="563.7" cy="643.0" r="3.7"/><circle cx="563.7" cy="642.6" r="3.7"/><circle cx="563.7" cy="642.1" r="3.7"/><circle cx="563.7" cy="641.7" r="3.7"/><circle cx="563.7" cy="641.2" r="3.7"/><circle cx="563.7" cy="640.8" r="3.7"/><circle cx="563.7" cy="640.3" r="3.7"/><circle cx="563.7" cy="639.8" r="3.7"/><circle cx="563.7" cy="639.2" r="3.7"/><circle cx="563.7" cy="638.5" r="3.7"/><circle cx="563.7" cy="637.8" r="3.7"/><circle cx="563.7" cy="637.0" r="3.7"/><circle cx="563.7" cy="636.1" r="3.7"/><circle cx="563.7" cy="635.0" r="3.7"/><circle cx="563.7" cy="633.8" r="3.7"/><circle cx="563.7" cy="632.2" r="3.7"/><circle cx="563.7" cy="630.2" r="3.7"/><circle cx="563.7" cy="627.5" r="3.7"/><circle cx="563.7" cy="625.0" r="3.7"/><circle cx="563.7" cy="610.5" r="3.7"/><circle cx="563.7" cy="618.8" r="3.7"/><path d="M563.7 654.75V642.7" stroke="#000" stroke-opacity="1" stroke-width="7.6" stroke-linecap="round"/><circle cx="563.7" cy="763.8" r="3.7"/><circle cx="563.7" cy="764.2" r="3.7"/><circle cx="563.7" cy="764.6" r="3.7"/><circle cx="563.7" cy="765.1" r="3.7"/><circle cx="563.7" cy="765.5" r="3.7"/><circle cx="563.7" cy="766.0" r="3.7"/><circle cx="563.7" cy="766.5" r="3.7"/><circle cx="563.7" cy="766.9" r="3.7"/><circle cx="563.7" cy="767.4" r="3.7"/><circle cx="563.7" cy="767.8" r="3.7"/><circle cx="563.7" cy="768.2" r="3.7"/><circle cx="563.7" cy="768.7" r="3.7"/><circle cx="563.7" cy="769.1" r="3.7"/><circle cx="563.7" cy="769.6" r="3.7"/><circle cx="563.7" cy="770.0" r="3.7"/><circle cx="563.7" cy="770.5" r="3.7"/><circle cx="563.7" cy="771.0" r="3.7"/><circle cx="563.7" cy="771.4" r="3.7"/><circle cx="563.7" cy="771.9" r="3.7"/><circle cx="563.7" cy="772.3" r="3.7"/><circle cx="563.7" cy="772.9" r="3.7"/><circle cx="563.7" cy="773.6" r="3.7"/><circle cx="563.7" cy="774.4" r="3.7"/><circle cx="563.7" cy="775.4" r="3.7"/><circle cx="563.7" cy="776.7" r="3.7"/><circle cx="563.7" cy="778.7" r="3.7"/><circle cx="563.7" cy="781.0" r="3.7"/><circle cx="563.7" cy="790.0" r="3.7"/><path d="M563.7 763.75V770.7" stroke="#000" stroke-opacity="1" stroke-width="7.6" stroke-linecap="round"/></g>
<path d="M563.7 654.75V696M563.7 722.25V763.75" stroke="#1a1a1a" stroke-width="3.7" fill="none"/>
<path d="M548.7 654.75H578.7M548.7 763.75H578.7" stroke="#1a1a1a" stroke-width="3.7" fill="none"/>
<circle cx="563.7" cy="654.75" r="3.6" fill="#111"/><circle cx="563.7" cy="763.75" r="3.6" fill="#111"/>
<rect x="533.7" y="696" width="60" height="26.25" fill="#eaeaea" stroke="#151515" stroke-width="2" stroke-linejoin="round"/>
<path d="M533.7 709.25H593.7" stroke="#151515" stroke-width="2"/>
<g fill="none" stroke="#000" stroke-opacity="0.42" stroke-width="0.9"><circle cx="684.9" cy="651.0" r="3.7"/><circle cx="684.9" cy="650.5" r="3.7"/><circle cx="684.9" cy="650.1" r="3.7"/><circle cx="684.9" cy="649.6" r="3.7"/><circle cx="684.9" cy="649.2" r="3.7"/><circle cx="684.9" cy="648.8" r="3.7"/><circle cx="684.9" cy="648.3" r="3.7"/><circle cx="684.9" cy="647.9" r="3.7"/><circle cx="684.9" cy="647.4" r="3.7"/><circle cx="684.9" cy="647.0" r="3.7"/><circle cx="684.9" cy="646.5" r="3.7"/><circle cx="684.9" cy="646.0" r="3.7"/><circle cx="684.9" cy="645.6" r="3.7"/><circle cx="684.9" cy="645.1" r="3.7"/><circle cx="684.9" cy="644.7" r="3.7"/><circle cx="684.9" cy="644.2" r="3.7"/><circle cx="684.9" cy="643.8" r="3.7"/><circle cx="684.9" cy="643.4" r="3.7"/><circle cx="684.9" cy="642.9" r="3.7"/><circle cx="684.9" cy="642.5" r="3.7"/><circle cx="684.9" cy="642.0" r="3.7"/><circle cx="684.9" cy="641.5" r="3.7"/><circle cx="684.9" cy="641.1" r="3.7"/><circle cx="684.9" cy="640.6" r="3.7"/><circle cx="684.9" cy="640.2" r="3.7"/><circle cx="684.9" cy="639.8" r="3.7"/><circle cx="684.9" cy="639.3" r="3.7"/><circle cx="684.9" cy="638.9" r="3.7"/><circle cx="684.9" cy="638.4" r="3.7"/><circle cx="684.9" cy="638.0" r="3.7"/><circle cx="684.9" cy="637.5" r="3.7"/><circle cx="684.9" cy="637.0" r="3.7"/><circle cx="684.9" cy="636.6" r="3.7"/><circle cx="684.9" cy="636.1" r="3.7"/><circle cx="684.9" cy="635.7" r="3.7"/><circle cx="684.9" cy="635.2" r="3.7"/><circle cx="684.9" cy="634.8" r="3.7"/><circle cx="684.9" cy="634.3" r="3.7"/><circle cx="684.9" cy="633.7" r="3.7"/><circle cx="684.9" cy="633.1" r="3.7"/><circle cx="684.9" cy="632.5" r="3.7"/><circle cx="684.9" cy="631.7" r="3.7"/><circle cx="684.9" cy="630.9" r="3.7"/><circle cx="684.9" cy="630.1" r="3.7"/><circle cx="684.9" cy="629.1" r="3.7"/><circle cx="684.9" cy="627.9" r="3.7"/><circle cx="684.9" cy="626.5" r="3.7"/><circle cx="684.9" cy="624.8" r="3.7"/><circle cx="684.9" cy="622.7" r="3.7"/><circle cx="684.9" cy="619.9" r="3.7"/><circle cx="684.9" cy="617.0" r="3.7"/><path d="M684.9 651V637.2" stroke="#000" stroke-opacity="1" stroke-width="7.6" stroke-linecap="round"/><circle cx="684.9" cy="783.5" r="3.7"/><circle cx="684.9" cy="784.0" r="3.7"/><circle cx="684.9" cy="784.4" r="3.7"/><circle cx="684.9" cy="784.9" r="3.7"/><circle cx="684.9" cy="785.3" r="3.7"/><circle cx="684.9" cy="785.8" r="3.7"/><circle cx="684.9" cy="786.2" r="3.7"/><circle cx="684.9" cy="786.6" r="3.7"/><circle cx="684.9" cy="787.1" r="3.7"/><circle cx="684.9" cy="787.5" r="3.7"/><circle cx="684.9" cy="788.0" r="3.7"/><circle cx="684.9" cy="788.5" r="3.7"/><circle cx="684.9" cy="788.9" r="3.7"/><circle cx="684.9" cy="789.4" r="3.7"/><circle cx="684.9" cy="789.8" r="3.7"/><circle cx="684.9" cy="790.2" r="3.7"/><circle cx="684.9" cy="790.7" r="3.7"/><circle cx="684.9" cy="791.1" r="3.7"/><circle cx="684.9" cy="791.6" r="3.7"/><circle cx="684.9" cy="792.0" r="3.7"/><circle cx="684.9" cy="792.5" r="3.7"/><circle cx="684.9" cy="793.0" r="3.7"/><circle cx="684.9" cy="793.4" r="3.7"/><circle cx="684.9" cy="793.9" r="3.7"/><circle cx="684.9" cy="794.3" r="3.7"/><circle cx="684.9" cy="794.8" r="3.7"/><circle cx="684.9" cy="795.2" r="3.7"/><circle cx="684.9" cy="795.6" r="3.7"/><circle cx="684.9" cy="796.1" r="3.7"/><circle cx="684.9" cy="796.5" r="3.7"/><circle cx="684.9" cy="797.0" r="3.7"/><circle cx="684.9" cy="797.5" r="3.7"/><circle cx="684.9" cy="797.9" r="3.7"/><circle cx="684.9" cy="798.4" r="3.7"/><circle cx="684.9" cy="798.8" r="3.7"/><circle cx="684.9" cy="799.2" r="3.7"/><circle cx="684.9" cy="799.7" r="3.7"/><circle cx="684.9" cy="800.1" r="3.7"/><circle cx="684.9" cy="800.6" r="3.7"/><circle cx="684.9" cy="801.0" r="3.7"/><circle cx="684.9" cy="801.5" r="3.7"/><circle cx="684.9" cy="801.9" r="3.7"/><circle cx="684.9" cy="802.4" r="3.7"/><circle cx="684.9" cy="802.9" r="3.7"/><circle cx="684.9" cy="803.3" r="3.7"/><circle cx="684.9" cy="803.8" r="3.7"/><circle cx="684.9" cy="804.3" r="3.7"/><circle cx="684.9" cy="804.8" r="3.7"/><circle cx="684.9" cy="805.4" r="3.7"/><circle cx="684.9" cy="806.0" r="3.7"/><circle cx="684.9" cy="806.6" r="3.7"/><circle cx="684.9" cy="807.3" r="3.7"/><circle cx="684.9" cy="808.0" r="3.7"/><circle cx="684.9" cy="808.8" r="3.7"/><circle cx="684.9" cy="809.7" r="3.7"/><circle cx="684.9" cy="810.7" r="3.7"/><circle cx="684.9" cy="811.8" r="3.7"/><circle cx="684.9" cy="813.0" r="3.7"/><circle cx="684.9" cy="814.4" r="3.7"/><circle cx="684.9" cy="816.1" r="3.7"/><circle cx="684.9" cy="818.1" r="3.7"/><circle cx="684.9" cy="820.6" r="3.7"/><circle cx="684.9" cy="824.0" r="3.7"/><circle cx="684.9" cy="826.5" r="3.7"/><circle cx="684.9" cy="830.8" r="3.7"/><circle cx="684.9" cy="837.5" r="3.7"/><path d="M684.9 783.5V800.9" stroke="#000" stroke-opacity="1" stroke-width="7.6" stroke-linecap="round"/></g>
<path d="M684.9 651V701.25M684.9 733V783.5" stroke="#1a1a1a" stroke-width="3.7" fill="none"/>
<path d="M669.9 651H699.9M669.9 783.5H699.9" stroke="#1a1a1a" stroke-width="3.7" fill="none"/>
<circle cx="684.9" cy="651" r="3.6" fill="#111"/><circle cx="684.9" cy="783.5" r="3.6" fill="#111"/>
<rect x="654.9" y="701.25" width="60" height="31.75" fill="#eaeaea" stroke="#151515" stroke-width="2" stroke-linejoin="round"/>
<path d="M654.9 716.75H714.9" stroke="#151515" stroke-width="2"/>
<g fill="none" stroke="#000" stroke-width="3.8">
<path d="M138.95 20.2H1354.1"/>
<path d="M140.85 18.3V939.2"/>
<path d="M1352.2 18.3V481.7"/>
<path d="M743.3 479.8H1354.1"/>
<path d="M745.25 479.8V939.2"/>
<path d="M138.95 937.3H747.15"/>
</g>
<path d="M745.2 20V480M141 479.9H745" stroke="#1c1c1c" stroke-width="1.9" fill="none"/>
<path d="M142.7 112.0h4.9M745 112.0h6.5M142.7 204.0h4.9M745 204.0h6.5M142.7 296.0h4.9M745 296.0h6.5M142.7 388.0h4.9M745 388.0h6.5M142.7 571h4.9M142.7 662.5h4.9M142.7 754h4.9M142.7 845.5h4.9M201.1 480v-6.2M201.1 935.4v-4.8M322 480v-6.2M322 935.4v-4.8M443 480v-6.2M443 935.4v-4.8M563.9 480v-6.2M563.9 935.4v-4.8M684.9 480v-6.2M684.9 935.4v-4.8M820.9 478v-4.8M896.9 478v-4.8M972.6 478v-4.8M1048.5 478v-4.8M1124.5 478v-4.8M1200.25 478v-4.8M1276 478v-4.8" stroke="#1c1c1c" stroke-width="1.9" fill="none"/>
<text x="130.5" y="33.80" font-size="34.3" text-anchor="end">1</text>
<text x="130.5" y="125.55" font-size="34.3" text-anchor="end">0.8</text>
<text x="130.5" y="217.55" font-size="34.3" text-anchor="end">0.6</text>
<text x="130.5" y="309.55" font-size="34.3" text-anchor="end">0.4</text>
<text x="130.5" y="401.55" font-size="34.3" text-anchor="end">0.2</text>
<text x="130.5" y="493.55" font-size="34.3" text-anchor="end">0</text>
<text x="130.5" y="584.80" font-size="34.3" text-anchor="end">0.8</text>
<text x="130.5" y="676.30" font-size="34.3" text-anchor="end">0.6</text>
<text x="130.5" y="767.80" font-size="34.3" text-anchor="end">0.4</text>
<text x="130.5" y="859.30" font-size="34.3" text-anchor="end">0.2</text>
<text x="130.5" y="950.80" font-size="34.3" text-anchor="end">0</text>
<text x="201.5" y="983.2" font-size="34" text-anchor="middle">PJ1</text>
<text x="322.5" y="983.2" font-size="34" text-anchor="middle">PJ2</text>
<text x="443.5" y="983.2" font-size="34" text-anchor="middle">PJ5</text>
<text x="564.2" y="983.2" font-size="34" text-anchor="middle">PJ8</text>
<text x="683.6999999999999" y="983.2" font-size="34" text-anchor="middle">PJ11</text>
<text x="819.4" y="525.7" font-size="33.9" text-anchor="middle">AS1</text>
<text x="892.4" y="526.3" font-size="33.9" text-anchor="middle">AS2</text>
<text x="972.5" y="526.7" font-size="33.9" text-anchor="middle">AS4</text>
<text x="1048.25" y="526.25" font-size="33.9" text-anchor="middle">AS5</text>
<text x="1124.25" y="527.5" font-size="33.9" text-anchor="middle">AS6</text>
<text x="1195.4" y="525.75" font-size="33.9" text-anchor="middle">AS9</text>
<text x="1275" y="526" font-size="33.9" text-anchor="middle">AS10</text>
<text x="443.1" y="1044.2" font-size="45.2" text-anchor="middle" fill="#111">Site</text>
<text x="1048.75" y="578.3" font-size="45.2" text-anchor="middle" fill="#111">Site</text>
<text transform="translate(43.2 481.7) rotate(-90)" font-size="44.5" text-anchor="middle" fill="#111">% Monsoon in Stems</text>
<text x="226.5" y="71" font-size="45" fill="#111">Piñon</text>
<text x="836" y="71.2" font-size="45" fill="#111">Aspen</text>
<text x="230.5" y="525.9" font-size="45" fill="#111">Juniper</text>
<text x="156" y="57.8" font-size="35" font-weight="bold" fill="#000">A</text>
<text x="757.5" y="57.6" font-size="35" font-weight="bold" fill="#000">B</text>
<text x="155.5" y="525.5" font-size="35" font-weight="bold" fill="#000">C</text>
</svg>
</body></html>
